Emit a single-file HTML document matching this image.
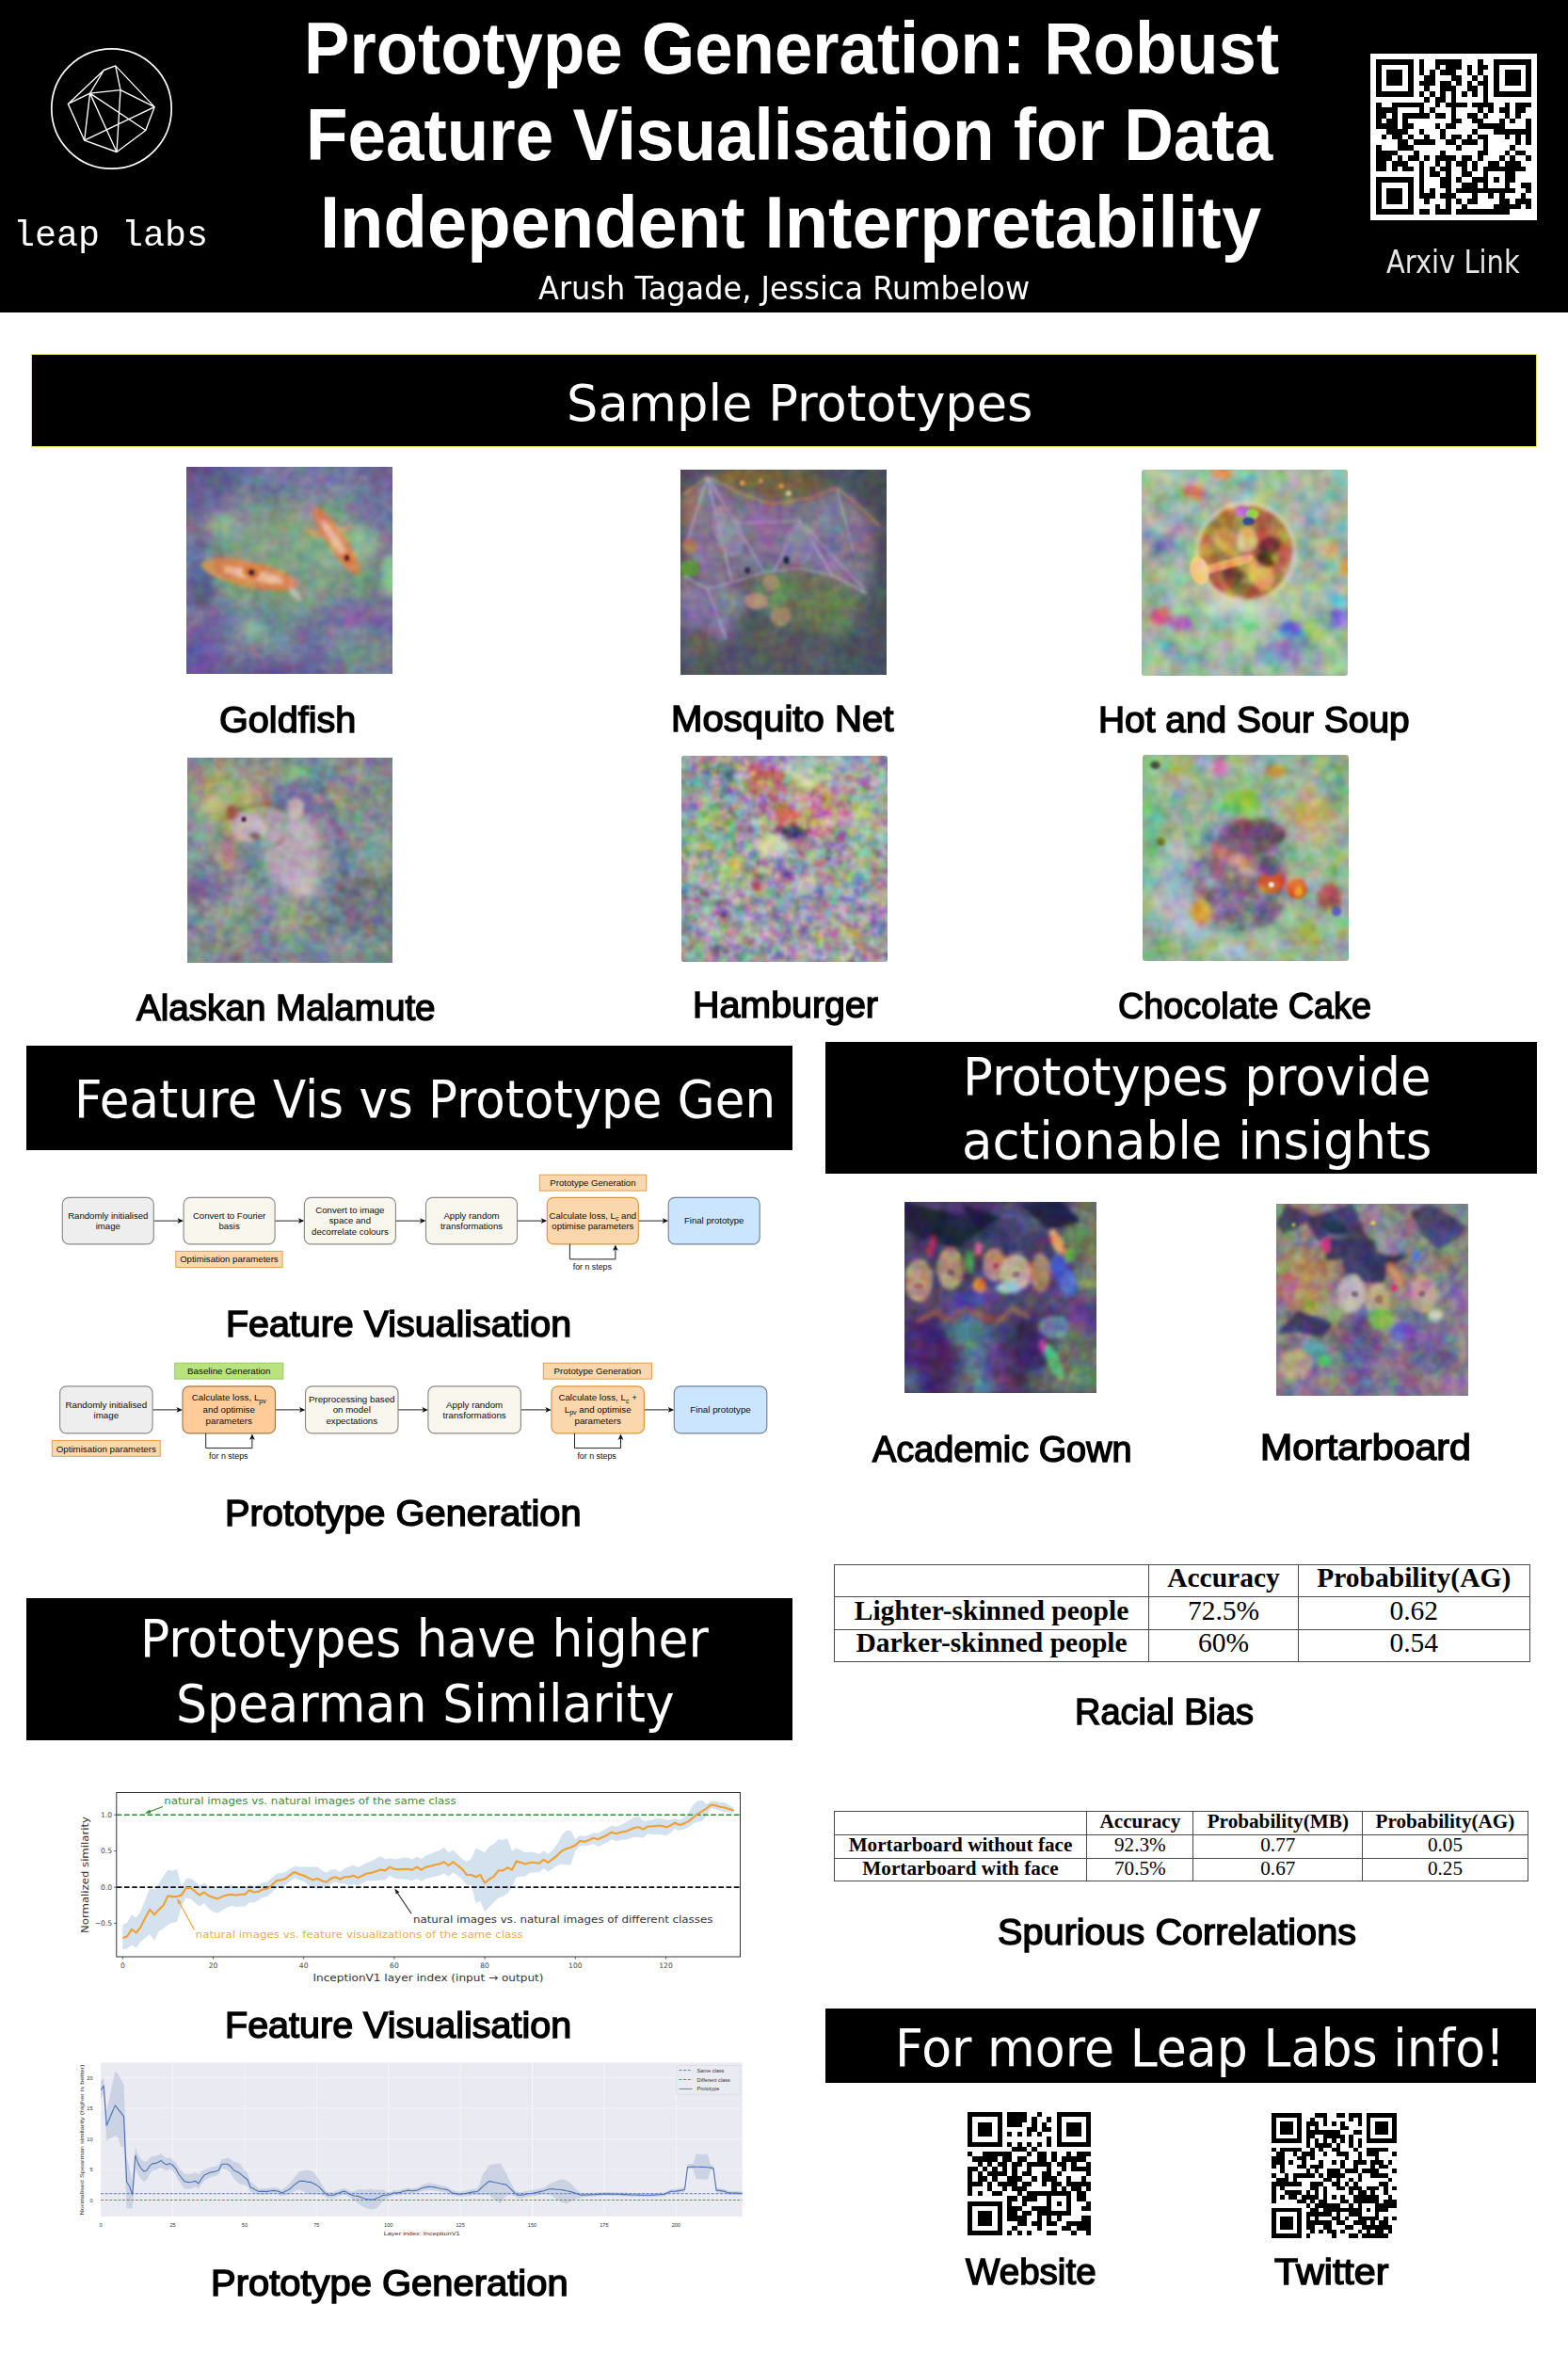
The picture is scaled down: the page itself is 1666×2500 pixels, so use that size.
<!DOCTYPE html>
<html lang="en"><head><meta charset="utf-8"><title>Prototype Generation: Robust Feature Visualisation for Data Independent Interpretability</title>
<style>
html,body{margin:0;padding:0}
body{width:1666px;height:2500px;position:relative;background:#fff;overflow:hidden;font-family:"Liberation Sans",sans-serif}
.t{position:absolute;white-space:nowrap;transform-origin:0 0;margin:0;padding:0;line-height:1}
.abs{position:absolute}
.bar{position:absolute;background:#000}
svg{position:absolute;overflow:visible}
table{position:absolute;border-collapse:collapse;font-family:"Liberation Serif",serif;color:#000}
td,th{border:1.3px solid #444;text-align:center;padding:0;white-space:nowrap;line-height:.8;vertical-align:middle}
</style></head>
<body>
<header class="abs" style="left:0;top:0;width:1666px;height:331.7px;background:#000">
<svg width="240" height="240" style="left:0;top:0" viewBox="0 0 240 240"><circle cx="118.5" cy="115.5" r="63.7" fill="none" stroke="#fff" stroke-width="1.7"/><path d="M110.4 74.5L122.7 69.9 M110.4 74.5L72.3 110.4 M110.4 74.5L95.6 99.1 M122.7 69.9L128.0 95.6 M122.7 69.9L164.2 113.6 M72.3 110.4L95.6 99.1 M95.6 99.1L128.0 95.6 M128.0 95.6L164.2 113.6 M72.3 110.4L89.7 149.2 M95.6 99.1L89.7 149.2 M95.6 99.1L124.0 161.5 M95.6 99.1L154.8 138.5 M128.0 95.6L124.0 161.5 M89.7 149.2L164.2 113.6 M164.2 113.6L154.8 138.5 M154.8 138.5L124.0 161.5 M124.0 161.5L89.7 149.2" stroke="#fff" stroke-width="1.35" fill="none" stroke-linejoin="round" stroke-linecap="round"/></svg>
<div class="t" id="t0" style='left:14.17px;top:232.20px;font:400 38px/1 "Liberation Mono", monospace;color:#fff;transform:scaleX(1.0084);'>leap labs</div>
<h1 class="t" id="t1" style='left:323.49px;top:12.90px;font:700 77px/1 "Liberation Sans", sans-serif;color:#fff;transform:scaleX(0.9424);'>Prototype Generation: Robust</h1>
<h1 class="t" id="t2" style='left:325.37px;top:105.30px;font:700 77px/1 "Liberation Sans", sans-serif;color:#fff;transform:scaleX(0.9463);'>Feature Visualisation for Data</h1>
<h1 class="t" id="t3" style='left:339.97px;top:198.10px;font:700 77px/1 "Liberation Sans", sans-serif;color:#fff;transform:scaleX(0.9864);'>Independent Interpretability</h1>
<div class="t" id="t4" style='left:572.00px;top:288.60px;font:400 34px/1 "DejaVu Sans", "Liberation Sans", sans-serif;color:#fff;transform:scaleX(0.9409);'>Arush Tagade, Jessica Rumbelow</div>
<div class="abs" style="left:1456.3px;top:57.1px;width:176.4px;height:176.7px;background:#fff"></div>
<div class="t" id="t5" style='left:1473.00px;top:262.40px;font:400 33px/1 "DejaVu Sans", "Liberation Sans", sans-serif;color:#e6e6e6;transform:scaleX(0.8772);'>Arxiv Link</div>
<svg width="165.0" height="165.0" viewBox="0 0 29 29" style="left:1462.1px;top:62.9px" shape-rendering="crispEdges"><path d="M0 0h7v1h-7zM8 0h1v1h-1zM11 0h5v1h-5zM19 0h1v1h-1zM22 0h7v1h-7zM0 1h1v1h-1zM6 1h1v1h-1zM8 1h1v1h-1zM11 1h1v1h-1zM13 1h3v1h-3zM17 1h1v1h-1zM19 1h2v1h-2zM22 1h1v1h-1zM28 1h1v1h-1zM0 2h1v1h-1zM2 2h3v1h-3zM6 2h1v1h-1zM8 2h1v1h-1zM10 2h1v1h-1zM12 2h3v1h-3zM17 2h1v1h-1zM19 2h1v1h-1zM22 2h1v1h-1zM24 2h3v1h-3zM28 2h1v1h-1zM0 3h1v1h-1zM2 3h3v1h-3zM6 3h1v1h-1zM9 3h2v1h-2zM14 3h2v1h-2zM18 3h1v1h-1zM20 3h1v1h-1zM22 3h1v1h-1zM24 3h3v1h-3zM28 3h1v1h-1zM0 4h1v1h-1zM2 4h3v1h-3zM6 4h1v1h-1zM8 4h3v1h-3zM12 4h2v1h-2zM15 4h1v1h-1zM17 4h1v1h-1zM19 4h2v1h-2zM22 4h1v1h-1zM24 4h3v1h-3zM28 4h1v1h-1zM0 5h1v1h-1zM6 5h1v1h-1zM9 5h1v1h-1zM12 5h3v1h-3zM17 5h2v1h-2zM20 5h1v1h-1zM22 5h1v1h-1zM28 5h1v1h-1zM0 6h7v1h-7zM8 6h1v1h-1zM10 6h1v1h-1zM12 6h1v1h-1zM14 6h1v1h-1zM16 6h1v1h-1zM18 6h1v1h-1zM20 6h1v1h-1zM22 6h7v1h-7zM9 7h1v1h-1zM11 7h2v1h-2zM14 7h1v1h-1zM20 7h1v1h-1zM0 8h1v1h-1zM3 8h6v1h-6zM11 8h1v1h-1zM13 8h4v1h-4zM18 8h4v1h-4zM24 8h1v1h-1zM26 8h3v1h-3zM0 9h4v1h-4zM8 9h1v1h-1zM10 9h1v1h-1zM14 9h1v1h-1zM19 9h1v1h-1zM21 9h1v1h-1zM23 9h2v1h-2zM26 9h2v1h-2zM0 10h2v1h-2zM3 10h1v1h-1zM5 10h5v1h-5zM11 10h2v1h-2zM14 10h1v1h-1zM17 10h2v1h-2zM20 10h1v1h-1zM24 10h1v1h-1zM26 10h1v1h-1zM0 11h1v1h-1zM2 11h2v1h-2zM5 11h1v1h-1zM14 11h2v1h-2zM18 11h2v1h-2zM23 11h1v1h-1zM25 11h1v1h-1zM28 11h1v1h-1zM0 12h4v1h-4zM5 12h2v1h-2zM11 12h1v1h-1zM13 12h2v1h-2zM19 12h5v1h-5zM28 12h1v1h-1zM2 13h4v1h-4zM8 13h1v1h-1zM12 13h1v1h-1zM18 13h1v1h-1zM22 13h7v1h-7zM1 14h1v1h-1zM3 14h2v1h-2zM6 14h1v1h-1zM9 14h1v1h-1zM12 14h1v1h-1zM14 14h2v1h-2zM17 14h1v1h-1zM19 14h2v1h-2zM24 14h1v1h-1zM26 14h1v1h-1zM28 14h1v1h-1zM4 15h2v1h-2zM7 15h4v1h-4zM13 15h2v1h-2zM16 15h3v1h-3zM20 15h1v1h-1zM26 15h1v1h-1zM28 15h1v1h-1zM0 16h1v1h-1zM4 16h3v1h-3zM15 16h1v1h-1zM20 16h1v1h-1zM25 16h1v1h-1zM0 17h4v1h-4zM7 17h1v1h-1zM12 17h1v1h-1zM19 17h2v1h-2zM24 17h1v1h-1zM26 17h2v1h-2zM0 18h3v1h-3zM4 18h1v1h-1zM6 18h2v1h-2zM9 18h1v1h-1zM11 18h4v1h-4zM16 18h2v1h-2zM19 18h1v1h-1zM23 18h1v1h-1zM25 18h1v1h-1zM28 18h1v1h-1zM0 19h2v1h-2zM3 19h3v1h-3zM8 19h1v1h-1zM11 19h1v1h-1zM13 19h1v1h-1zM15 19h2v1h-2zM18 19h1v1h-1zM21 19h2v1h-2zM24 19h3v1h-3zM0 20h2v1h-2zM3 20h1v1h-1zM5 20h2v1h-2zM8 20h1v1h-1zM10 20h1v1h-1zM12 20h2v1h-2zM16 20h1v1h-1zM18 20h1v1h-1zM20 20h8v1h-8zM8 21h1v1h-1zM10 21h2v1h-2zM13 21h1v1h-1zM16 21h2v1h-2zM20 21h1v1h-1zM24 21h2v1h-2zM0 22h7v1h-7zM8 22h1v1h-1zM12 22h2v1h-2zM15 22h1v1h-1zM18 22h3v1h-3zM22 22h1v1h-1zM24 22h2v1h-2zM0 23h1v1h-1zM6 23h1v1h-1zM8 23h1v1h-1zM12 23h2v1h-2zM16 23h3v1h-3zM20 23h1v1h-1zM24 23h1v1h-1zM27 23h2v1h-2zM0 24h1v1h-1zM2 24h3v1h-3zM6 24h1v1h-1zM8 24h1v1h-1zM10 24h1v1h-1zM13 24h1v1h-1zM15 24h11v1h-11zM28 24h1v1h-1zM0 25h1v1h-1zM2 25h3v1h-3zM6 25h1v1h-1zM8 25h3v1h-3zM12 25h3v1h-3zM18 25h1v1h-1zM21 25h1v1h-1zM23 25h1v1h-1zM27 25h1v1h-1zM0 26h1v1h-1zM2 26h3v1h-3zM6 26h1v1h-1zM9 26h1v1h-1zM13 26h1v1h-1zM15 26h1v1h-1zM17 26h2v1h-2zM23 26h2v1h-2zM26 26h3v1h-3zM0 27h1v1h-1zM6 27h1v1h-1zM11 27h1v1h-1zM13 27h1v1h-1zM16 27h1v1h-1zM22 27h5v1h-5zM28 27h1v1h-1zM0 28h7v1h-7zM8 28h2v1h-2zM11 28h3v1h-3zM15 28h10v1h-10z" fill="#000"/></svg>
</header>
<main>
<section>
<div class="bar" style="left:32.8px;top:376px;width:1598px;height:97px;border:1px solid #e6dc50"></div>
<h2 class="t" id="t6" style='left:601.88px;top:401.90px;font:400 54px/1 "DejaVu Sans", "Liberation Sans", sans-serif;color:#fff;transform:scaleX(0.9749);'>Sample Prototypes</h2>
<svg width="0" height="0" style="left:0;top:0"><defs><filter id="bl0_45" x="-30%" y="-30%" width="160%" height="160%"><feGaussianBlur stdDeviation="0.45"/></filter><filter id="bl0_5" x="-30%" y="-30%" width="160%" height="160%"><feGaussianBlur stdDeviation="0.5"/></filter><filter id="bl0_55" x="-30%" y="-30%" width="160%" height="160%"><feGaussianBlur stdDeviation="0.55"/></filter><filter id="bl0_6" x="-30%" y="-30%" width="160%" height="160%"><feGaussianBlur stdDeviation="0.6"/></filter><filter id="bl0_65" x="-30%" y="-30%" width="160%" height="160%"><feGaussianBlur stdDeviation="0.65"/></filter><filter id="bl0_7" x="-30%" y="-30%" width="160%" height="160%"><feGaussianBlur stdDeviation="0.7"/></filter><filter id="bl0_9" x="-30%" y="-30%" width="160%" height="160%"><feGaussianBlur stdDeviation="0.9"/></filter><filter id="bl0_95" x="-30%" y="-30%" width="160%" height="160%"><feGaussianBlur stdDeviation="0.95"/></filter><filter id="bl1_4" x="-30%" y="-30%" width="160%" height="160%"><feGaussianBlur stdDeviation="1.4"/></filter><filter id="bl1_5" x="-30%" y="-30%" width="160%" height="160%"><feGaussianBlur stdDeviation="1.5"/></filter><filter id="bl2_2" x="-30%" y="-30%" width="160%" height="160%"><feGaussianBlur stdDeviation="2.2"/></filter><filter id="bl2_8" x="-30%" y="-30%" width="160%" height="160%"><feGaussianBlur stdDeviation="2.8"/></filter><filter id="bl3_2" x="-30%" y="-30%" width="160%" height="160%"><feGaussianBlur stdDeviation="3.2"/></filter><filter id="bl4" x="-30%" y="-30%" width="160%" height="160%"><feGaussianBlur stdDeviation="4"/></filter><filter id="bl5" x="-30%" y="-30%" width="160%" height="160%"><feGaussianBlur stdDeviation="5"/></filter></defs></svg>
<svg width="218.7" height="219.8" viewBox="0 0 100 100" preserveAspectRatio="none" style="left:198.1px;top:496.1px;overflow:hidden;border-radius:0px"><defs><filter id="nz0" x="0" y="0" width="100%" height="100%" color-interpolation-filters="sRGB"><feTurbulence type="fractalNoise" baseFrequency="0.06" numOctaves="2" seed="11" result="m"/><feColorMatrix in="m" type="matrix" values="0.25 0 0 0 0.375 0 0.25 0 0 0.375 0 0 0.25 0 0.375 0 0 0 0 1" result="m2"/><feBlend in="m2" in2="SourceGraphic" mode="overlay" result="s1"/><feTurbulence type="fractalNoise" baseFrequency="0.22" numOctaves="2" seed="3" result="n"/><feColorMatrix in="n" type="matrix" values="0.26 0 0 0 0.370 0 0.26 0 0 0.370 0 0 0.26 0 0.370 0 0 0 0 1" result="n2"/><feGaussianBlur in="n2" stdDeviation="0.5" result="n3"/><feBlend in="n3" in2="s1" mode="overlay"/></filter></defs><g filter="url(#nz0)"><rect x="-20" y="-20" width="140" height="140" fill="#72749a"/><g filter="url(#bl5)"><ellipse cx="52" cy="44" rx="42" ry="30" fill="#7c9c84"/><ellipse cx="55" cy="40" rx="26" ry="18" fill="#86a488" fill-opacity="0.8"/><ellipse cx="2" cy="2" rx="20" ry="18" fill="#5c5490"/><ellipse cx="2" cy="97" rx="20" ry="18" fill="#6a5a98"/><ellipse cx="44" cy="99" rx="28" ry="9" fill="#62528e"/><ellipse cx="97" cy="2" rx="13" ry="12" fill="#666094"/><ellipse cx="86" cy="90" rx="13" ry="9" fill="#80a090" fill-opacity="0.8"/><ellipse cx="39" cy="86" rx="12" ry="6" fill="#86a8a0" fill-opacity="0.8"/><ellipse cx="75" cy="72" rx="12" ry="11" fill="#77749b"/></g><g filter="url(#bl2_2)"><ellipse cx="86" cy="37" rx="8" ry="8" fill="#8ab890"/><ellipse cx="99" cy="52" rx="4" ry="11" fill="#90c890"/><ellipse cx="18" cy="29" rx="6" ry="6" fill="#86b090"/><ellipse cx="33" cy="79" rx="5" ry="4" fill="#8cc090"/><ellipse cx="8" cy="57" rx="6" ry="12" fill="#565a88"/><ellipse cx="60" cy="25" rx="6" ry="8" fill="#8890a0" transform="rotate(30 60 25)" fill-opacity="0.7"/></g><g filter="url(#bl0_9)"><ellipse cx="30.5" cy="52" rx="24" ry="6.3" fill="#dc8450" transform="rotate(12 30.5 52)" fill-opacity="0.92"/><ellipse cx="33" cy="52.5" rx="15" ry="2.6" fill="#edc2a6" transform="rotate(12 33 52.5)" fill-opacity="0.9"/><ellipse cx="31.6" cy="51" rx="4.2" ry="3.2" fill="#d86a28" transform="rotate(12 31.6 51)"/><ellipse cx="53" cy="62" rx="4.5" ry="1.4" fill="#d0c8b8" transform="rotate(50 53 62)" fill-opacity="0.8"/><ellipse cx="73" cy="36" rx="19.5" ry="4.6" fill="#dc8450" transform="rotate(56 73 36)" fill-opacity="0.92"/><ellipse cx="72" cy="35" rx="11" ry="2.0" fill="#edc2a6" transform="rotate(56 72 35)" fill-opacity="0.9"/><ellipse cx="78" cy="44" rx="3.2" ry="2.6" fill="#d86a28" transform="rotate(56 78 44)"/><ellipse cx="62" cy="32" rx="4.5" ry="1.1" fill="#e09858" transform="rotate(20 62 32)"/><ellipse cx="77" cy="30" rx="3.5" ry="1" fill="#e0a070" transform="rotate(-20 77 30)"/></g><g filter="url(#bl0_45)"><ellipse cx="31.6" cy="51" rx="1.3" ry="1.3" fill="#3a2a3a"/><ellipse cx="78" cy="44" rx="1.1" ry="1.3" fill="#3a2a3a"/></g></g></svg>
<svg width="218.9" height="218.3" viewBox="0 0 100 100" preserveAspectRatio="none" style="left:723.1px;top:498.7px;overflow:hidden;border-radius:0px"><defs><filter id="nz2" x="0" y="0" width="100%" height="100%" color-interpolation-filters="sRGB"><feTurbulence type="fractalNoise" baseFrequency="0.06" numOctaves="2" seed="13" result="m"/><feColorMatrix in="m" type="matrix" values="0.25 0 0 0 0.375 0 0.25 0 0 0.375 0 0 0.25 0 0.375 0 0 0 0 1" result="m2"/><feBlend in="m2" in2="SourceGraphic" mode="overlay" result="s1"/><feTurbulence type="fractalNoise" baseFrequency="0.22" numOctaves="2" seed="5" result="n"/><feColorMatrix in="n" type="matrix" values="0.26 0 0 0 0.370 0 0.26 0 0 0.370 0 0 0.26 0 0.370 0 0 0 0 1" result="n2"/><feGaussianBlur in="n2" stdDeviation="0.5" result="n3"/><feBlend in="n3" in2="s1" mode="overlay"/></filter></defs><g filter="url(#nz2)"><rect x="-20" y="-20" width="140" height="140" fill="#4a545e"/><g filter="url(#bl2_8)"><polygon points="2,9 13,3.5 30,12 44,17 62,14 76,9 86,17 96,27 92,45 90,60 75,52 58,48 40,50 25,55 13,58 2,40" fill="#7f7290"/><polygon points="13,3.5 30,-2 60,-2 76,9 62,14 44,17 30,12" fill="#6a6448"/><polygon points="-2,50 13,58 25,55 35,62 25,80 10,85 -2,75" fill="#80789a"/><polygon points="35,50 58,48 75,52 90,62 80,80 50,78 35,65" fill="#667a5a"/><ellipse cx="40" cy="90" rx="42" ry="10" fill="#585860"/><ellipse cx="88" cy="92" rx="16" ry="14" fill="#47525c"/><ellipse cx="99" cy="50" rx="5" ry="52" fill="#46505a"/><ellipse cx="-2" cy="5" rx="10" ry="8" fill="#504a5c"/><ellipse cx="4" cy="20" rx="4" ry="10" fill="#a06850" fill-opacity="0.9"/><ellipse cx="9" cy="83" rx="7" ry="6" fill="#6a5a58"/><ellipse cx="60" cy="70" rx="18" ry="8" fill="#6a7656" fill-opacity="0.8"/></g><g filter="url(#bl0_65)"><polyline points="2,12 13,3.5 30,12 44,17 62,14 76,9 86,17 96,27" stroke="#a07c60" stroke-width="1.6" fill="none" stroke-linejoin="round" stroke-linecap="round" stroke-opacity="0.9"/><polyline points="13,4 25,55" stroke="#b4a4c4" stroke-width="1.1" fill="none" stroke-linejoin="round" stroke-linecap="round" stroke-opacity="0.8"/><polyline points="13,4 3,36" stroke="#b09ab8" stroke-width="1.1" fill="none" stroke-linejoin="round" stroke-linecap="round" stroke-opacity="0.7"/><polyline points="14,5 40,49" stroke="#b4a4c4" stroke-width="1" fill="none" stroke-linejoin="round" stroke-linecap="round" stroke-opacity="0.7"/><polyline points="58,25 45,50" stroke="#b4a4c8" stroke-width="1" fill="none" stroke-linejoin="round" stroke-linecap="round" stroke-opacity="0.8"/><polyline points="58,25 74,52" stroke="#b4a4c8" stroke-width="1" fill="none" stroke-linejoin="round" stroke-linecap="round" stroke-opacity="0.8"/><polyline points="58,25 89,58" stroke="#a898bc" stroke-width="1" fill="none" stroke-linejoin="round" stroke-linecap="round" stroke-opacity="0.7"/><polyline points="25,26 58,25" stroke="#a890b0" stroke-width="1.2" fill="none" stroke-linejoin="round" stroke-linecap="round" stroke-opacity="0.7"/><polyline points="76,10 84,40" stroke="#a898bc" stroke-width="1" fill="none" stroke-linejoin="round" stroke-linecap="round" stroke-opacity="0.7"/><polyline points="13,58 25,55 40,50 58,48 75,52 90,60" stroke="#9a9ab0" stroke-width="1.2" fill="none" stroke-linejoin="round" stroke-linecap="round" stroke-opacity="0.7"/><polyline points="13,58 22,82" stroke="#a8a0c0" stroke-width="1.1" fill="none" stroke-linejoin="round" stroke-linecap="round" stroke-opacity="0.7"/><polyline points="2,52 13,58" stroke="#a8a0c0" stroke-width="1" fill="none" stroke-linejoin="round" stroke-linecap="round" stroke-opacity="0.7"/><ellipse cx="23" cy="30" rx="7" ry="13" fill="#a08cae" transform="rotate(-20 23 30)" fill-opacity="0.7"/><ellipse cx="58" cy="36" rx="8" ry="10" fill="#9484b0" transform="rotate(10 58 36)" fill-opacity="0.7"/><ellipse cx="4.5" cy="48" rx="5" ry="4" fill="#5a8a3a"/><ellipse cx="4.5" cy="37" rx="3.5" ry="3.5" fill="#a87850"/><ellipse cx="30" cy="4" rx="12" ry="4" fill="#7a6a3a" fill-opacity="0.8"/><ellipse cx="44" cy="55" rx="4" ry="4" fill="#a08868"/><ellipse cx="37" cy="64" rx="6" ry="4" fill="#a88c70"/><ellipse cx="48.5" cy="71" rx="5" ry="5" fill="#9a8264"/><ellipse cx="47" cy="64" rx="5" ry="4" fill="#6a8858"/><ellipse cx="30" cy="6.5" rx="1" ry="1" fill="#f0c060"/><ellipse cx="39" cy="5.5" rx="1" ry="1" fill="#e0a050"/><ellipse cx="49" cy="8" rx="1.1" ry="1.1" fill="#f0a050"/><ellipse cx="52.5" cy="11.5" rx="1.2" ry="1.2" fill="#f0c090"/><ellipse cx="51.5" cy="44" rx="1.5" ry="2" fill="#1c2040"/><ellipse cx="32.5" cy="49" rx="1.3" ry="1.6" fill="#1c2040"/></g></g></svg>
<svg width="219.2" height="219.2" viewBox="0 0 100 100" preserveAspectRatio="none" style="left:1213.1px;top:498.7px;overflow:hidden;border-radius:3px"><defs><filter id="nz4" x="0" y="0" width="100%" height="100%" color-interpolation-filters="sRGB"><feTurbulence type="fractalNoise" baseFrequency="0.09" numOctaves="2" seed="15" result="m"/><feColorMatrix in="m" type="matrix" values="0.55 0 0 0 0.225 0 0.55 0 0 0.225 0 0 0.55 0 0.225 0 0 0 0 1" result="m2"/><feBlend in="m2" in2="SourceGraphic" mode="overlay" result="s1"/><feTurbulence type="fractalNoise" baseFrequency="0.18" numOctaves="2" seed="7" result="n"/><feColorMatrix in="n" type="matrix" values="0.4 0 0 0 0.300 0 0.4 0 0 0.300 0 0 0.4 0 0.300 0 0 0 0 1" result="n2"/><feGaussianBlur in="n2" stdDeviation="0.5" result="n3"/><feBlend in="n3" in2="s1" mode="overlay"/></filter></defs><g filter="url(#nz4)"><rect x="-20" y="-20" width="140" height="140" fill="#9eb8a0"/><g filter="url(#bl4)"><ellipse cx="13" cy="30" rx="8" ry="9" fill="#9898b0"/><ellipse cx="30" cy="68" rx="8" ry="5" fill="#90d090"/><ellipse cx="55" cy="75" rx="8" ry="10" fill="#90c890"/><ellipse cx="83" cy="82" rx="6" ry="6" fill="#80c070"/><ellipse cx="16" cy="5.5" rx="6" ry="6" fill="#a0c880"/><ellipse cx="69" cy="89" rx="12" ry="6" fill="#8080c8"/><ellipse cx="6" cy="37" rx="5" ry="8" fill="#7080b0"/><ellipse cx="48" cy="66" rx="22" ry="4" fill="#d0e0d0"/><ellipse cx="85" cy="20" rx="10" ry="8" fill="#a8a8c0" fill-opacity="0.7"/></g><g filter="url(#bl1_5)"><ellipse cx="25" cy="10.5" rx="5" ry="4" fill="#c86060"/><ellipse cx="39" cy="1.5" rx="5" ry="3" fill="#e09030"/><ellipse cx="96.5" cy="72" rx="4" ry="5" fill="#9050d0"/><ellipse cx="96" cy="63" rx="4" ry="3" fill="#50c0d0"/><ellipse cx="18.5" cy="75" rx="6" ry="4" fill="#a070c0"/><ellipse cx="9.5" cy="70.5" rx="5" ry="4" fill="#c06080"/><ellipse cx="72" cy="77.5" rx="6" ry="4" fill="#7070d0"/><ellipse cx="99" cy="47.5" rx="2.5" ry="5" fill="#e08040"/><ellipse cx="92" cy="38" rx="4" ry="4" fill="#e09060" fill-opacity="0.7"/><ellipse cx="14" cy="88" rx="6" ry="5" fill="#80a8c0" fill-opacity="0.8"/></g><g filter="url(#bl0_9)"><ellipse cx="50.5" cy="40" rx="24.5" ry="24.5" fill="#d6d2b0"/><ellipse cx="50.5" cy="40" rx="22.8" ry="22.8" fill="#b07a44"/><ellipse cx="51" cy="34" rx="5" ry="6" fill="#e0b070"/><ellipse cx="58" cy="51" rx="6" ry="8" fill="#e0a860" transform="rotate(-20 58 51)"/><ellipse cx="62" cy="37" rx="5" ry="5" fill="#6a4030"/><ellipse cx="44" cy="52" rx="5" ry="5" fill="#8a5030"/><ellipse cx="40" cy="33" rx="6" ry="5" fill="#c89050"/><ellipse cx="60" cy="44" rx="5" ry="3" fill="#5a3828" transform="rotate(30 60 44)"/><ellipse cx="50" cy="58" rx="7" ry="3" fill="#8a5a38"/></g><g filter="url(#bl0_55)"><path d="M30 49L52 43" stroke="#eca860" stroke-width="4.2" stroke-linecap="round" fill="none"/><ellipse cx="28" cy="49" rx="4.5" ry="7" fill="#f3cb94" transform="rotate(-15 28 49)"/><ellipse cx="49" cy="20.5" rx="4" ry="2.5" fill="#c060c0"/><ellipse cx="54" cy="21.5" rx="3" ry="2.5" fill="#a0d040"/><ellipse cx="52" cy="25" rx="3" ry="2" fill="#404080"/></g></g></svg>
<svg width="218.6" height="218.4" viewBox="0 0 100 100" preserveAspectRatio="none" style="left:198.7px;top:804.7px;overflow:hidden;border-radius:0px"><defs><filter id="nz1" x="0" y="0" width="100%" height="100%" color-interpolation-filters="sRGB"><feTurbulence type="fractalNoise" baseFrequency="0.07" numOctaves="2" seed="12" result="m"/><feColorMatrix in="m" type="matrix" values="0.3 0 0 0 0.350 0 0.3 0 0 0.350 0 0 0.3 0 0.350 0 0 0 0 1" result="m2"/><feBlend in="m2" in2="SourceGraphic" mode="overlay" result="s1"/><feTurbulence type="fractalNoise" baseFrequency="0.22" numOctaves="2" seed="4" result="n"/><feColorMatrix in="n" type="matrix" values="0.36 0 0 0 0.320 0 0.36 0 0 0.320 0 0 0.36 0 0.320 0 0 0 0 1" result="n2"/><feGaussianBlur in="n2" stdDeviation="0.5" result="n3"/><feBlend in="n3" in2="s1" mode="overlay"/></filter></defs><g filter="url(#nz1)"><rect x="-20" y="-20" width="140" height="140" fill="#808893"/><g filter="url(#bl5)"><ellipse cx="20" cy="22" rx="20" ry="19" fill="#a4a878" fill-opacity="0.95"/><ellipse cx="93" cy="79" rx="24" ry="26" fill="#717d89"/><ellipse cx="44" cy="95" rx="55" ry="8" fill="#7c8490"/><ellipse cx="27" cy="76" rx="15" ry="10" fill="#90a884" fill-opacity="0.8"/><ellipse cx="55" cy="78" rx="12" ry="8" fill="#98a878" fill-opacity="0.8"/><ellipse cx="90" cy="41" rx="8" ry="15" fill="#88a088" fill-opacity="0.8"/><ellipse cx="96" cy="10" rx="10" ry="14" fill="#78868a"/></g><g filter="url(#bl2_2)"><ellipse cx="13" cy="23" rx="5" ry="4" fill="#c8c870" fill-opacity="0.8"/><ellipse cx="55" cy="9" rx="6" ry="5" fill="#90c080"/><ellipse cx="9" cy="65" rx="10" ry="6" fill="#8a68a0" fill-opacity="0.8"/><ellipse cx="51" cy="46" rx="13" ry="20" fill="#b4a8b6"/><ellipse cx="56" cy="58" rx="8" ry="11" fill="#bcb0b8"/><ellipse cx="38.5" cy="69" rx="5" ry="9" fill="#8890a8"/><ellipse cx="72" cy="41" rx="6" ry="18" fill="#8088a0" fill-opacity="0.8"/><ellipse cx="20" cy="48" rx="4" ry="8" fill="#c09080" fill-opacity="0.8"/><ellipse cx="55" cy="20" rx="11" ry="10" fill="#7a80a0"/><ellipse cx="70" cy="20" rx="8" ry="6" fill="#b8a070" transform="rotate(30 70 20)" fill-opacity="0.6"/></g><g filter="url(#bl0_9)"><polyline points="43,25 49,15 57,11 65,15 70,25 74,40 76,56" stroke="#6c7292" stroke-width="4.5" fill="none" stroke-linejoin="round" stroke-linecap="round" stroke-opacity="0.85"/><polyline points="44,62 40,75 38,86" stroke="#8088a2" stroke-width="3" fill="none" stroke-linejoin="round" stroke-linecap="round" stroke-opacity="0.8"/><polyline points="56,68 53,82" stroke="#8890a8" stroke-width="3" fill="none" stroke-linejoin="round" stroke-linecap="round" stroke-opacity="0.8"/><polyline points="22,26 30,24 40,22 46,26" stroke="#8a6458" stroke-width="1.6" fill="none" stroke-linejoin="round" stroke-linecap="round" stroke-opacity="0.8"/><polyline points="22,42 30,46 40,44 47,40" stroke="#8a6a70" stroke-width="1.6" fill="none" stroke-linejoin="round" stroke-linecap="round" stroke-opacity="0.7"/><ellipse cx="30" cy="34" rx="9" ry="7" fill="#c2b4b8"/><ellipse cx="21.5" cy="27" rx="3" ry="3.5" fill="#8a5a50"/><ellipse cx="52.5" cy="25" rx="4" ry="6" fill="#c6b8ac"/><ellipse cx="33" cy="38" rx="3" ry="2" fill="#a05a68"/><ellipse cx="44" cy="32" rx="5" ry="8" fill="#aa9ea8" transform="rotate(-30 44 32)"/></g><g filter="url(#bl0_6)"><ellipse cx="27.5" cy="30" rx="1.1" ry="1.3" fill="#30283a"/></g></g></svg>
<svg width="218.9" height="219" viewBox="0 0 100 100" preserveAspectRatio="none" style="left:724px;top:803.1px;overflow:hidden;border-radius:2.5px"><defs><filter id="nz3" x="0" y="0" width="100%" height="100%" color-interpolation-filters="sRGB"><feTurbulence type="fractalNoise" baseFrequency="0.11" numOctaves="2" seed="14" result="m"/><feColorMatrix in="m" type="matrix" values="0.6 0 0 0 0.200 0 0.6 0 0 0.200 0 0 0.6 0 0.200 0 0 0 0 1" result="m2"/><feBlend in="m2" in2="SourceGraphic" mode="overlay" result="s1"/><feTurbulence type="fractalNoise" baseFrequency="0.26" numOctaves="2" seed="6" result="n"/><feColorMatrix in="n" type="matrix" values="0.7 0 0 0 0.150 0 0.7 0 0 0.150 0 0 0.7 0 0.150 0 0 0 0 1" result="n2"/><feGaussianBlur in="n2" stdDeviation="0.5" result="n3"/><feBlend in="n3" in2="s1" mode="overlay"/></filter></defs><g filter="url(#nz3)"><rect x="-20" y="-20" width="140" height="140" fill="#9a9ca4"/><g filter="url(#bl4)"><ellipse cx="9" cy="41" rx="10" ry="13" fill="#9ac080"/><ellipse cx="16" cy="30" rx="10" ry="14" fill="#98a890"/><ellipse cx="12.5" cy="9" rx="13" ry="7" fill="#8890a0"/><ellipse cx="89" cy="30" rx="9" ry="12" fill="#a0c090"/><ellipse cx="86" cy="51" rx="8" ry="9" fill="#98b090"/><ellipse cx="51" cy="65" rx="20" ry="12" fill="#9890a8"/><ellipse cx="79" cy="90" rx="12" ry="8" fill="#b8a088"/><ellipse cx="9" cy="93" rx="10" ry="6" fill="#90a890"/><ellipse cx="61" cy="9" rx="12" ry="8" fill="#a8c8a0"/><ellipse cx="60" cy="27" rx="22" ry="14" fill="#bc8c84" transform="rotate(-10 60 27)" fill-opacity="0.8"/><ellipse cx="25" cy="60" rx="12" ry="10" fill="#a0b890" fill-opacity="0.7"/><ellipse cx="50" cy="88" rx="30" ry="8" fill="#a098a8" fill-opacity="0.7"/><ellipse cx="85" cy="72" rx="10" ry="10" fill="#9c94b0" fill-opacity="0.7"/></g><g filter="url(#bl1_4)"><ellipse cx="40" cy="11.5" rx="9" ry="8" fill="#c07070"/><ellipse cx="68" cy="27" rx="14" ry="10" fill="#c09088"/><ellipse cx="51" cy="28" rx="6" ry="4" fill="#c86a6a"/><ellipse cx="53" cy="37" rx="8" ry="3.5" fill="#4a4a60"/><ellipse cx="44" cy="44" rx="8" ry="6" fill="#d0d0b0"/><ellipse cx="26" cy="53" rx="2.5" ry="6" fill="#d8c860" transform="rotate(25 26 53)"/><ellipse cx="19.5" cy="69" rx="7" ry="7" fill="#b4acb6"/><ellipse cx="19.5" cy="72" rx="6" ry="1.2" fill="#505060"/><ellipse cx="19.5" cy="75.5" rx="6" ry="1.2" fill="#505060"/><polyline points="8,12 14,6 22,8 24,16 18,20" stroke="#6a7288" stroke-width="2.2" fill="none" stroke-linejoin="round" stroke-linecap="round" stroke-opacity="0.8"/><polyline points="12,28 18,22 26,28 28,42 22,50" stroke="#7a8a78" stroke-width="2.2" fill="none" stroke-linejoin="round" stroke-linecap="round" stroke-opacity="0.7"/><polyline points="30,52 40,60 55,58 70,50 80,36" stroke="#5a6080" stroke-width="1.6" fill="none" stroke-linejoin="round" stroke-linecap="round" stroke-opacity="0.7"/><polyline points="52,6 60,14 70,10 78,18" stroke="#e0f0e0" stroke-width="1.8" fill="none" stroke-linejoin="round" stroke-linecap="round" stroke-opacity="0.7"/><ellipse cx="60" cy="62" rx="6" ry="5" fill="#e0e0c0" fill-opacity="0.6"/><ellipse cx="37" cy="64" rx="3" ry="3" fill="#c03060" fill-opacity="0.7"/></g></g></svg>
<svg width="218.9" height="219" viewBox="0 0 100 100" preserveAspectRatio="none" style="left:1214px;top:802.1px;overflow:hidden;border-radius:3px"><defs><filter id="nz5" x="0" y="0" width="100%" height="100%" color-interpolation-filters="sRGB"><feTurbulence type="fractalNoise" baseFrequency="0.09" numOctaves="2" seed="16" result="m"/><feColorMatrix in="m" type="matrix" values="0.5 0 0 0 0.250 0 0.5 0 0 0.250 0 0 0.5 0 0.250 0 0 0 0 1" result="m2"/><feBlend in="m2" in2="SourceGraphic" mode="overlay" result="s1"/><feTurbulence type="fractalNoise" baseFrequency="0.2" numOctaves="2" seed="8" result="n"/><feColorMatrix in="n" type="matrix" values="0.4 0 0 0 0.300 0 0.4 0 0 0.300 0 0 0.4 0 0.300 0 0 0 0 1" result="n2"/><feGaussianBlur in="n2" stdDeviation="0.5" result="n3"/><feBlend in="n3" in2="s1" mode="overlay"/></filter></defs><g filter="url(#nz5)"><rect x="-20" y="-20" width="140" height="140" fill="#98b498"/><g filter="url(#bl4)"><ellipse cx="4" cy="37" rx="6" ry="30" fill="#80b880"/><ellipse cx="9" cy="90" rx="10" ry="10" fill="#80b078"/><ellipse cx="16" cy="65" rx="8" ry="25" fill="#a8b8c4"/><ellipse cx="23" cy="83" rx="10" ry="6" fill="#b0b8c8"/><ellipse cx="16" cy="9.5" rx="10" ry="6" fill="#b0b080"/><ellipse cx="82" cy="30" rx="14" ry="12" fill="#c0a878"/><ellipse cx="94" cy="16" rx="6" ry="14" fill="#88b080"/><ellipse cx="54.5" cy="90" rx="14" ry="6" fill="#a8c0a0"/><ellipse cx="47.5" cy="58" rx="25" ry="27" fill="#84708a" fill-opacity="0.9"/></g><g filter="url(#bl1_5)"><ellipse cx="37" cy="6" rx="5" ry="5" fill="#c898a8"/><ellipse cx="30" cy="4.5" rx="4" ry="3" fill="#90b8d0"/><ellipse cx="65" cy="8" rx="5" ry="3" fill="#d09a40"/><ellipse cx="93" cy="51" rx="5" ry="5" fill="#a0c080"/><ellipse cx="54.5" cy="39" rx="14" ry="8" fill="#6a5868"/><ellipse cx="44" cy="51" rx="14" ry="3" fill="#c09088" transform="rotate(30 44 51)"/><ellipse cx="48" cy="23" rx="10" ry="6" fill="#80c050"/><ellipse cx="91.5" cy="69" rx="6" ry="7" fill="#b05a58"/><ellipse cx="28.5" cy="76" rx="5" ry="6" fill="#e0a040"/><ellipse cx="44" cy="95" rx="8" ry="3" fill="#90b0d0"/><ellipse cx="80" cy="88" rx="6" ry="6" fill="#a0b050" fill-opacity="0.8"/><ellipse cx="50" cy="75" rx="16" ry="10" fill="#7c6a88" fill-opacity="0.8"/></g><g filter="url(#bl0_7)"><ellipse cx="62" cy="62" rx="6.5" ry="5.5" fill="#c8602e"/><ellipse cx="75" cy="65" rx="5" ry="5" fill="#d4682a"/><ellipse cx="75.5" cy="66.5" rx="2" ry="2" fill="#f0a030"/><ellipse cx="94" cy="76" rx="2.5" ry="2.5" fill="#5050c0"/><ellipse cx="62" cy="54" rx="5" ry="5" fill="#7a5a78"/><ellipse cx="9" cy="42" rx="2" ry="2" fill="#707020"/><ellipse cx="6" cy="5" rx="2.5" ry="2" fill="#605040"/></g><g filter="url(#bl0_5)"><ellipse cx="62.5" cy="63" rx="1.2" ry="1.2" fill="#ffffff"/></g></g></svg>
<h3 class="t" id="t7" style='left:232.80px;top:745.10px;font:400 39.6px/1 "Liberation Sans", sans-serif;color:#000;transform:scaleX(1.0008);-webkit-text-stroke:1.5px #000;'>Goldfish</h3>
<h3 class="t" id="t8" style='left:144.50px;top:1051.10px;font:400 39.6px/1 "Liberation Sans", sans-serif;color:#000;transform:scaleX(0.9755);-webkit-text-stroke:1.5px #000;'>Alaskan Malamute</h3>
<h3 class="t" id="t9" style='left:713.36px;top:743.80px;font:400 39.6px/1 "Liberation Sans", sans-serif;color:#000;transform:scaleX(1.0140);-webkit-text-stroke:1.5px #000;'>Mosquito Net</h3>
<h3 class="t" id="t10" style='left:736.42px;top:1048.30px;font:400 39.6px/1 "Liberation Sans", sans-serif;color:#000;transform:scaleX(0.9949);-webkit-text-stroke:1.5px #000;'>Hamburger</h3>
<h3 class="t" id="t11" style='left:1166.75px;top:744.60px;font:400 39.6px/1 "Liberation Sans", sans-serif;color:#000;transform:scaleX(0.9822);-webkit-text-stroke:1.5px #000;'>Hot and Sour Soup</h3>
<h3 class="t" id="t12" style='left:1187.59px;top:1049.00px;font:400 39.6px/1 "Liberation Sans", sans-serif;color:#000;transform:scaleX(0.9551);-webkit-text-stroke:1.5px #000;'>Chocolate Cake</h3>
</section>
<section>
<div class="bar" style="left:28.1px;top:1110.9px;width:814px;height:110.8px"></div>
<h2 class="t" id="t13" style='left:79.32px;top:1141.10px;font:400 55px/1 "DejaVu Sans", "Liberation Sans", sans-serif;color:#fff;transform:scaleX(0.9360);'>Feature Vis vs Prototype Gen</h2>
<svg width="860" height="120" viewBox="0 1240 860 120" style="left:0;top:1240px" font-family="Liberation Sans, sans-serif"><path d="M163.3 1297.1H191.1" stroke="#222" stroke-width="1" fill="none"/><path d="M195.1 1297.1L188.5 1294.1999999999998L190.2 1297.1L188.5 1300.0Z" fill="#111"/><path d="M292.1 1297.1H319.4" stroke="#222" stroke-width="1" fill="none"/><path d="M323.4 1297.1L316.79999999999995 1294.1999999999998L318.49999999999994 1297.1L316.79999999999995 1300.0Z" fill="#111"/><path d="M420.4 1297.1H448.5" stroke="#222" stroke-width="1" fill="none"/><path d="M452.5 1297.1L445.9 1294.1999999999998L447.59999999999997 1297.1L445.9 1300.0Z" fill="#111"/><path d="M549.5 1297.1H577.3" stroke="#222" stroke-width="1" fill="none"/><path d="M581.3 1297.1L574.6999999999999 1294.1999999999998L576.4 1297.1L574.6999999999999 1300.0Z" fill="#111"/><path d="M678.3 1297.1H706.2" stroke="#222" stroke-width="1" fill="none"/><path d="M710.2 1297.1L703.6 1294.1999999999998L705.3000000000001 1297.1L703.6 1300.0Z" fill="#111"/><rect x="66.3" y="1272.3" width="97" height="49.6" rx="7" fill="#eeeeee" stroke="#8a8a8a" stroke-width="1.15"/><text x="114.8" y="1294.81" text-anchor="middle" font-size="9.6" fill="#0c0c0c">Randomly initialised</text><text x="114.8" y="1306.11" text-anchor="middle" font-size="9.6" fill="#0c0c0c">image</text><rect x="195.1" y="1272.3" width="97" height="49.6" rx="7" fill="#f9f7ed" stroke="#8a8a8a" stroke-width="1.15"/><text x="243.6" y="1294.81" text-anchor="middle" font-size="9.6" fill="#0c0c0c">Convert to Fourier</text><text x="243.6" y="1306.11" text-anchor="middle" font-size="9.6" fill="#0c0c0c">basis</text><rect x="323.4" y="1272.3" width="97" height="49.6" rx="7" fill="#f9f7ed" stroke="#8a8a8a" stroke-width="1.15"/><text x="371.9" y="1289.16" text-anchor="middle" font-size="9.6" fill="#0c0c0c">Convert to image</text><text x="371.9" y="1300.46" text-anchor="middle" font-size="9.6" fill="#0c0c0c">space and</text><text x="371.9" y="1311.76" text-anchor="middle" font-size="9.6" fill="#0c0c0c">decorrelate colours</text><rect x="452.5" y="1272.3" width="97" height="49.6" rx="7" fill="#f9f7ed" stroke="#8a8a8a" stroke-width="1.15"/><text x="501.0" y="1294.81" text-anchor="middle" font-size="9.6" fill="#0c0c0c">Apply random</text><text x="501.0" y="1306.11" text-anchor="middle" font-size="9.6" fill="#0c0c0c">transformations</text><rect x="581.3" y="1272.3" width="97" height="49.6" rx="7" fill="#fad7ac" stroke="#d9963c" stroke-width="1.15"/><text x="629.8" y="1294.81" text-anchor="middle" font-size="9.6" fill="#0c0c0c">Calculate loss, L<tspan dy="2.11" font-size="6.91">c</tspan><tspan dy="-2.11">​</tspan> and</text><text x="629.8" y="1306.11" text-anchor="middle" font-size="9.6" fill="#0c0c0c">optimise parameters</text><rect x="710.2" y="1272.3" width="97" height="49.6" rx="7" fill="#cce5ff" stroke="#72829a" stroke-width="1.15"/><text x="758.7" y="1300.46" text-anchor="middle" font-size="9.6" fill="#0c0c0c">Final prototype</text><rect x="573.3" y="1248.2" width="113.3" height="16.9" fill="#fad7ac" stroke="#e0a050" stroke-width="1"/><text x="629.9" y="1260.26" text-anchor="middle" font-size="9.6" fill="#0c0c0c">Prototype Generation</text><rect x="186.8" y="1329.4" width="113.3" height="17.1" fill="#fad7ac" stroke="#e0a050" stroke-width="1"/><text x="243.4" y="1341.46" text-anchor="middle" font-size="9.6" fill="#0c0c0c">Optimisation parameters</text><path d="M605.4 1321.8999999999999V1337.9H653.9V1325.8999999999999" stroke="#222" stroke-width="1" fill="none"/><path d="M653.9 1322.3999999999999L651.0 1328.9999999999998L653.9 1327.2999999999997L656.8 1328.9999999999998Z" fill="#111"/><text x="629.3" y="1348.68" text-anchor="middle" font-size="8.8" fill="#0c0c0c">for n steps</text></svg>
<svg width="860" height="120" viewBox="0 1440 860 120" style="left:0;top:1440px" font-family="Liberation Sans, sans-serif"><path d="M162.1 1497.9H190" stroke="#222" stroke-width="1" fill="none"/><path d="M194 1497.9L187.4 1495.0L189.1 1497.9L187.4 1500.8000000000002Z" fill="#111"/><path d="M292.5 1497.9H320.5" stroke="#222" stroke-width="1" fill="none"/><path d="M324.5 1497.9L317.9 1495.0L319.59999999999997 1497.9L317.9 1500.8000000000002Z" fill="#111"/><path d="M423.0 1497.9H450.9" stroke="#222" stroke-width="1" fill="none"/><path d="M454.9 1497.9L448.29999999999995 1495.0L449.99999999999994 1497.9L448.29999999999995 1500.8000000000002Z" fill="#111"/><path d="M553.4 1497.9H581.9" stroke="#222" stroke-width="1" fill="none"/><path d="M585.9 1497.9L579.3 1495.0L581.0 1497.9L579.3 1500.8000000000002Z" fill="#111"/><path d="M684.4 1497.9H712.3" stroke="#222" stroke-width="1" fill="none"/><path d="M716.3 1497.9L709.6999999999999 1495.0L711.4 1497.9L709.6999999999999 1500.8000000000002Z" fill="#111"/><rect x="63.6" y="1472.9" width="98.5" height="50" rx="7" fill="#eeeeee" stroke="#8a8a8a" stroke-width="1.15"/><text x="112.85" y="1495.61" text-anchor="middle" font-size="9.75" fill="#0c0c0c">Randomly initialised</text><text x="112.85" y="1507.01" text-anchor="middle" font-size="9.75" fill="#0c0c0c">image</text><rect x="194" y="1472.9" width="98.5" height="50" rx="7" fill="#ffcc99" stroke="#a07848" stroke-width="1.15"/><text x="243.25" y="1488.41" text-anchor="middle" font-size="9.75" fill="#0c0c0c">Calculate loss, L<tspan dy="2.15" font-size="7.02">pv</tspan><tspan dy="-2.15">​</tspan></text><text x="243.25" y="1500.71" text-anchor="middle" font-size="9.75" fill="#0c0c0c">and optimise</text><text x="243.25" y="1513.01" text-anchor="middle" font-size="9.75" fill="#0c0c0c">parameters</text><rect x="324.5" y="1472.9" width="98.5" height="50" rx="7" fill="#f9f7ed" stroke="#8a8a8a" stroke-width="1.15"/><text x="373.75" y="1489.91" text-anchor="middle" font-size="9.75" fill="#0c0c0c">Preprocessing based</text><text x="373.75" y="1501.31" text-anchor="middle" font-size="9.75" fill="#0c0c0c">on model</text><text x="373.75" y="1512.71" text-anchor="middle" font-size="9.75" fill="#0c0c0c">expectations</text><rect x="454.9" y="1472.9" width="98.5" height="50" rx="7" fill="#f9f7ed" stroke="#8a8a8a" stroke-width="1.15"/><text x="504.15" y="1495.61" text-anchor="middle" font-size="9.75" fill="#0c0c0c">Apply random</text><text x="504.15" y="1507.01" text-anchor="middle" font-size="9.75" fill="#0c0c0c">transformations</text><rect x="585.9" y="1472.9" width="98.5" height="50" rx="7" fill="#fad7ac" stroke="#d9963c" stroke-width="1.15"/><text x="635.15" y="1488.41" text-anchor="middle" font-size="9.75" fill="#0c0c0c">Calculate loss, L<tspan dy="2.15" font-size="7.02">c</tspan><tspan dy="-2.15">​</tspan> +</text><text x="635.15" y="1500.71" text-anchor="middle" font-size="9.75" fill="#0c0c0c">L<tspan dy="2.15" font-size="7.02">pv</tspan><tspan dy="-2.15">​</tspan> and optimise</text><text x="635.15" y="1513.01" text-anchor="middle" font-size="9.75" fill="#0c0c0c">parameters</text><rect x="716.3" y="1472.9" width="98.5" height="50" rx="7" fill="#cce5ff" stroke="#72829a" stroke-width="1.15"/><text x="765.55" y="1501.31" text-anchor="middle" font-size="9.75" fill="#0c0c0c">Final prototype</text><rect x="185.7" y="1448.2" width="115.2" height="16.9" fill="#b9e37f" stroke="#9ac764" stroke-width="1"/><text x="243.3" y="1460.31" text-anchor="middle" font-size="9.75" fill="#0c0c0c">Baseline Generation</text><rect x="577.3" y="1448.2" width="115.2" height="16.9" fill="#fad7ac" stroke="#e0a050" stroke-width="1"/><text x="634.9" y="1460.31" text-anchor="middle" font-size="9.75" fill="#0c0c0c">Prototype Generation</text><rect x="55.3" y="1530.4" width="114.9" height="16.9" fill="#fad7ac" stroke="#e0a050" stroke-width="1"/><text x="112.8" y="1542.51" text-anchor="middle" font-size="9.75" fill="#0c0c0c">Optimisation parameters</text><path d="M218.7 1522.9V1538.6H267.9V1526.9" stroke="#222" stroke-width="1" fill="none"/><path d="M267.9 1523.4L265.0 1530.0L267.9 1528.3L270.79999999999995 1530.0Z" fill="#111"/><text x="242.8" y="1550.12" text-anchor="middle" font-size="8.9" fill="#0c0c0c">for n steps</text><path d="M610.5 1522.9V1538.6H659.5V1526.9" stroke="#222" stroke-width="1" fill="none"/><path d="M659.5 1523.4L656.6 1530.0L659.5 1528.3L662.4 1530.0Z" fill="#111"/><text x="634.1" y="1550.12" text-anchor="middle" font-size="8.9" fill="#0c0c0c">for n steps</text></svg>
<h3 class="t" id="t14" style='left:239.81px;top:1386.60px;font:400 39.6px/1 "Liberation Sans", sans-serif;color:#000;transform:scaleX(0.9951);-webkit-text-stroke:1.5px #000;'>Feature Visualisation</h3>
<h3 class="t" id="t15" style='left:238.88px;top:1588.00px;font:400 39.6px/1 "Liberation Sans", sans-serif;color:#000;transform:scaleX(1.0062);-webkit-text-stroke:1.5px #000;'>Prototype Generation</h3>
</section>
<section>
<div class="bar" style="left:877px;top:1107px;width:755.6px;height:139.8px"></div>
<h2 class="t" id="t16" style='left:1023.40px;top:1117.20px;font:400 55px/1 "DejaVu Sans", "Liberation Sans", sans-serif;color:#fff;transform:scaleX(0.9605);'>Prototypes provide</h2>
<h2 class="t" id="t17" style='left:1022.31px;top:1185.30px;font:400 55px/1 "DejaVu Sans", "Liberation Sans", sans-serif;color:#fff;transform:scaleX(0.9631);'>actionable insights</h2>
<svg width="203.8" height="202.8" viewBox="0 0 100 100" preserveAspectRatio="none" style="left:961.1px;top:1277.1px;overflow:hidden;border-radius:0px"><defs><filter id="nz6" x="0" y="0" width="100%" height="100%" color-interpolation-filters="sRGB"><feTurbulence type="fractalNoise" baseFrequency="0.08" numOctaves="2" seed="17" result="m"/><feColorMatrix in="m" type="matrix" values="0.4 0 0 0 0.300 0 0.4 0 0 0.300 0 0 0.4 0 0.300 0 0 0 0 1" result="m2"/><feBlend in="m2" in2="SourceGraphic" mode="overlay" result="s1"/><feTurbulence type="fractalNoise" baseFrequency="0.22" numOctaves="2" seed="9" result="n"/><feColorMatrix in="n" type="matrix" values="0.34 0 0 0 0.330 0 0.34 0 0 0.330 0 0 0.34 0 0.330 0 0 0 0 1" result="n2"/><feGaussianBlur in="n2" stdDeviation="0.5" result="n3"/><feBlend in="n3" in2="s1" mode="overlay"/></filter></defs><g filter="url(#nz6)"><rect x="-20" y="-20" width="140" height="140" fill="#4b3d66"/><g filter="url(#bl3_2)"><ellipse cx="95" cy="18" rx="12" ry="24" fill="#6f7a5c"/><ellipse cx="96" cy="40" rx="6" ry="14" fill="#7a8264"/><ellipse cx="58" cy="12" rx="14" ry="9" fill="#55558a"/><ellipse cx="34" cy="65.5" rx="12" ry="10" fill="#5a7890"/><ellipse cx="38.5" cy="83" rx="8" ry="14" fill="#5a8088"/><ellipse cx="90" cy="58.5" rx="10" ry="12" fill="#6a4a90"/><ellipse cx="12" cy="80" rx="14" ry="22" fill="#46286a"/><ellipse cx="65" cy="80" rx="10" ry="22" fill="#3a2a60"/><ellipse cx="48" cy="87" rx="8" ry="14" fill="#5a3a80"/><ellipse cx="92" cy="85" rx="14" ry="20" fill="#677660"/><ellipse cx="1.5" cy="94" rx="6" ry="6" fill="#5a7080"/><ellipse cx="37" cy="98" rx="10" ry="3" fill="#5a8a90"/><ellipse cx="30" cy="18" rx="32" ry="12" fill="#38385e" fill-opacity="0.85"/><ellipse cx="50" cy="50" rx="45" ry="6" fill="#5a5080" fill-opacity="0.6"/><ellipse cx="75" cy="95" rx="10" ry="6" fill="#5a6a70"/></g><g filter="url(#bl0_95)"><polygon points="0,0 28,7 10,20 0,14" fill="#20203e"/><polygon points="10,14 34,4 43,13 25,26" fill="#1e2840"/><polygon points="30,1 50,8 38,15" fill="#1c1c3a"/><polygon points="60,1 80,-2 92,10 76,15" fill="#22224a"/><polygon points="44,16 58,12 72,18 64,26 50,24" fill="#3a3a6a"/><ellipse cx="83" cy="38.5" rx="5" ry="12" fill="#4a5ec8" transform="rotate(-25 83 38.5)"/><ellipse cx="34" cy="51" rx="10" ry="5" fill="#4848a0"/><polyline points="8,62 16,58 24,62 32,56 40,60 48,64 56,56 64,60" stroke="#8a5a50" stroke-width="3" fill="none" stroke-linejoin="round" stroke-linecap="round" stroke-opacity="0.85"/><ellipse cx="78" cy="65.5" rx="8" ry="6" fill="#6a78a0"/><ellipse cx="78" cy="84" rx="3.5" ry="10" fill="#50c080" transform="rotate(-25 78 84)"/><ellipse cx="7.5" cy="41" rx="7.5" ry="11" fill="#b8957a" fill-opacity="0.92"/><ellipse cx="24" cy="35" rx="7" ry="11" fill="#b8957a" fill-opacity="0.92"/><ellipse cx="47" cy="33" rx="6" ry="9" fill="#b8957a" fill-opacity="0.92"/><ellipse cx="58" cy="37" rx="8" ry="10" fill="#c8b29c" fill-opacity="0.92"/><ellipse cx="71" cy="37" rx="5.5" ry="10" fill="#a88870" fill-opacity="0.9"/><ellipse cx="54.5" cy="45" rx="7" ry="3" fill="#a0c0d0"/><ellipse cx="39" cy="43.5" rx="3.5" ry="3.5" fill="#d88030"/><ellipse cx="79.5" cy="21" rx="3" ry="7" fill="#e0a860" transform="rotate(-25 79.5 21)"/><ellipse cx="38.5" cy="24.5" rx="2" ry="4" fill="#e06080"/><ellipse cx="34" cy="31.5" rx="3" ry="6" fill="#40a060"/><ellipse cx="86" cy="28" rx="3" ry="4" fill="#60b040"/><ellipse cx="72" cy="76" rx="2" ry="4" fill="#c040a0"/><ellipse cx="14" cy="24" rx="2" ry="6" fill="#d03060" transform="rotate(10 14 24)" fill-opacity="0.8"/></g><g filter="url(#bl0_55)"><ellipse cx="7.5" cy="44" rx="2.5" ry="1.6" fill="#a04058" fill-opacity="0.7"/><ellipse cx="24" cy="37" rx="2" ry="1.8" fill="#804050" fill-opacity="0.7"/><ellipse cx="47.5" cy="33.5" rx="1.5" ry="1.5" fill="#804058" fill-opacity="0.7"/><ellipse cx="58" cy="38" rx="2" ry="1.8" fill="#905050" fill-opacity="0.7"/></g></g></svg>
<svg width="203.9" height="203.5" viewBox="0 0 100 100" preserveAspectRatio="none" style="left:1356.1px;top:1279.1px;overflow:hidden;border-radius:0px"><defs><filter id="nz7" x="0" y="0" width="100%" height="100%" color-interpolation-filters="sRGB"><feTurbulence type="fractalNoise" baseFrequency="0.08" numOctaves="2" seed="18" result="m"/><feColorMatrix in="m" type="matrix" values="0.35 0 0 0 0.325 0 0.35 0 0 0.325 0 0 0.35 0 0.325 0 0 0 0 1" result="m2"/><feBlend in="m2" in2="SourceGraphic" mode="overlay" result="s1"/><feTurbulence type="fractalNoise" baseFrequency="0.22" numOctaves="2" seed="10" result="n"/><feColorMatrix in="n" type="matrix" values="0.34 0 0 0 0.330 0 0.34 0 0 0.330 0 0 0.34 0 0.330 0 0 0 0 1" result="n2"/><feGaussianBlur in="n2" stdDeviation="0.5" result="n3"/><feBlend in="n3" in2="s1" mode="overlay"/></filter></defs><g filter="url(#nz7)"><rect x="-20" y="-20" width="140" height="140" fill="#84808e"/><g filter="url(#bl3_2)"><ellipse cx="32" cy="42" rx="34" ry="30" fill="#93866f" fill-opacity="0.55"/><ellipse cx="70" cy="30" rx="20" ry="18" fill="#8c8478" fill-opacity="0.5"/><ellipse cx="12" cy="8.5" rx="16" ry="12" fill="#8a8a7c"/><ellipse cx="51" cy="5" rx="14" ry="6" fill="#8a8088"/><ellipse cx="93.5" cy="26.5" rx="9" ry="14" fill="#7a8a70"/><ellipse cx="96.5" cy="58.5" rx="6" ry="22" fill="#98789a"/><ellipse cx="93.5" cy="67" rx="5" ry="8" fill="#8a9a80"/><ellipse cx="16" cy="42" rx="12" ry="18" fill="#b08a68"/><ellipse cx="44" cy="72.5" rx="13" ry="19" fill="#6a5a88"/><ellipse cx="79.5" cy="76" rx="13" ry="19" fill="#6c6290"/><ellipse cx="44" cy="97" rx="40" ry="4" fill="#7a6a90"/><ellipse cx="86.5" cy="93.5" rx="12" ry="6" fill="#907890"/><ellipse cx="99" cy="8" rx="6" ry="10" fill="#80907a"/><ellipse cx="25" cy="60" rx="10" ry="8" fill="#98a070" fill-opacity="0.7"/><ellipse cx="62" cy="88" rx="12" ry="8" fill="#8a7a90"/></g><g filter="url(#bl0_95)"><polygon points="15,8 40,0 47,17 28,16 22,20" fill="#403c6a"/><ellipse cx="30" cy="12" rx="7" ry="3.5" fill="#26304c" transform="rotate(15 30 12)"/><polygon points="24,18 46,17 68,27 58,34 56,42 36,40 34,28 26,30" fill="#3a3862"/><polygon points="70,4 80,0 100,12 95,18 84,24 76,16" fill="#4c4270"/><polygon points="0,11 5,0 20,7 4,16" fill="#42406e"/><polygon points="0,68 11,56 30,62 24,70 12,67" fill="#3e3e66"/><ellipse cx="5" cy="44" rx="5" ry="8" fill="#b06870"/><ellipse cx="65" cy="67" rx="6" ry="5" fill="#6070c0"/><ellipse cx="69" cy="67" rx="3" ry="4" fill="#7a50b0"/><ellipse cx="19.5" cy="76" rx="6" ry="5" fill="#50a0a0"/><ellipse cx="60" cy="22" rx="8" ry="5" fill="#8a80a0"/><ellipse cx="39" cy="47" rx="7.5" ry="10" fill="#c4b8b6" fill-opacity="0.92"/><ellipse cx="53" cy="50" rx="6.5" ry="8.5" fill="#bca68a" fill-opacity="0.92"/><ellipse cx="76.5" cy="47" rx="7" ry="10" fill="#bea098" fill-opacity="0.92"/><ellipse cx="83" cy="58" rx="4" ry="3" fill="#d0c8c0"/><ellipse cx="62" cy="37" rx="3" ry="7" fill="#c88c60" transform="rotate(-30 62 37)"/><ellipse cx="54.5" cy="60" rx="7" ry="5" fill="#78b050"/><ellipse cx="3" cy="33.5" rx="4" ry="4" fill="#80a060"/><ellipse cx="18" cy="53.5" rx="4" ry="4" fill="#a0a850"/><ellipse cx="10" cy="84" rx="9" ry="8" fill="#b89c86" fill-opacity="0.92"/><ellipse cx="25" cy="81.5" rx="4" ry="3" fill="#50c070"/><ellipse cx="26" cy="22" rx="2" ry="4" fill="#d03080"/><ellipse cx="73" cy="27" rx="2" ry="3" fill="#4080e0"/><polyline points="14,16 16,40 20,56" stroke="#c08050" stroke-width="1.6" fill="none" stroke-linejoin="round" stroke-linecap="round" stroke-opacity="0.7"/></g><g filter="url(#bl0_55)"><ellipse cx="41" cy="47" rx="1.8" ry="1.5" fill="#704058" fill-opacity="0.7"/><ellipse cx="53.5" cy="50" rx="2" ry="2.2" fill="#a05858" fill-opacity="0.7"/><ellipse cx="76" cy="47" rx="1.8" ry="1.5" fill="#604848" fill-opacity="0.7"/><ellipse cx="61.5" cy="44" rx="1.5" ry="1.5" fill="#e03060"/><ellipse cx="9" cy="11" rx="1" ry="1" fill="#f0b040"/><ellipse cx="50.5" cy="10" rx="1.2" ry="1" fill="#e0e040"/></g></g></svg>
<table style="left:885.7px;top:1661.8px;width:739.2px;font-size:29.5px;table-layout:fixed"><colgroup><col style="width:334.6px"><col style="width:158.4px"><col style="width:246.2px"></colgroup><tr style="height:34.5px"><th style="font-weight:700;border:1.3px solid #4a4a4a;padding-bottom:5px"></th><th style="font-weight:700;border:1.3px solid #4a4a4a;padding-bottom:5px">Accuracy</th><th style="font-weight:700;border:1.3px solid #4a4a4a;padding-bottom:5px">Probability(AG)</th></tr><tr style="height:34.6px"><th style="font-weight:700;border:1.3px solid #4a4a4a;padding-bottom:5px">Lighter-skinned people</th><td style="font-weight:400;border:1.3px solid #4a4a4a;padding-bottom:5px">72.5%</td><td style="font-weight:400;border:1.3px solid #4a4a4a;padding-bottom:5px">0.62</td></tr><tr style="height:34.0px"><th style="font-weight:700;border:1.3px solid #4a4a4a;padding-bottom:5px">Darker-skinned people</th><td style="font-weight:400;border:1.3px solid #4a4a4a;padding-bottom:5px">60%</td><td style="font-weight:400;border:1.3px solid #4a4a4a;padding-bottom:5px">0.54</td></tr></table><table style="left:885.7px;top:1924.4px;width:737.1px;font-size:21.2px;table-layout:fixed"><colgroup><col style="width:268.6px"><col style="width:113.2px"><col style="width:179.7px"><col style="width:175.6px"></colgroup><tr style="height:24.8px"><th style="font-weight:700;border:1.1px solid #4a4a4a;padding-bottom:3.4px"></th><th style="font-weight:700;border:1.1px solid #4a4a4a;padding-bottom:3.4px">Accuracy</th><th style="font-weight:700;border:1.1px solid #4a4a4a;padding-bottom:3.4px">Probability(MB)</th><th style="font-weight:700;border:1.1px solid #4a4a4a;padding-bottom:3.4px">Probability(AG)</th></tr><tr style="height:24.9px"><th style="font-weight:700;border:1.1px solid #4a4a4a;padding-bottom:3.4px">Mortarboard without face</th><td style="font-weight:400;border:1.1px solid #4a4a4a;padding-bottom:3.4px">92.3%</td><td style="font-weight:400;border:1.1px solid #4a4a4a;padding-bottom:3.4px">0.77</td><td style="font-weight:400;border:1.1px solid #4a4a4a;padding-bottom:3.4px">0.05</td></tr><tr style="height:24.4px"><th style="font-weight:700;border:1.1px solid #4a4a4a;padding-bottom:3.4px">Mortarboard with face</th><td style="font-weight:400;border:1.1px solid #4a4a4a;padding-bottom:3.4px">70.5%</td><td style="font-weight:400;border:1.1px solid #4a4a4a;padding-bottom:3.4px">0.67</td><td style="font-weight:400;border:1.1px solid #4a4a4a;padding-bottom:3.4px">0.25</td></tr></table>
<h3 class="t" id="t18" style='left:926.80px;top:1520.40px;font:400 39.6px/1 "Liberation Sans", sans-serif;color:#000;transform:scaleX(0.9562);-webkit-text-stroke:1.5px #000;'>Academic Gown</h3>
<h3 class="t" id="t19" style='left:1338.88px;top:1518.20px;font:400 39.6px/1 "Liberation Sans", sans-serif;color:#000;transform:scaleX(1.0386);-webkit-text-stroke:1.5px #000;'>Mortarboard</h3>
<h3 class="t" id="t20" style='left:1141.72px;top:1798.90px;font:400 39.6px/1 "Liberation Sans", sans-serif;color:#000;transform:scaleX(0.9599);-webkit-text-stroke:1.5px #000;'>Racial Bias</h3>
<h3 class="t" id="t21" style='left:1059.90px;top:2032.50px;font:400 39.6px/1 "Liberation Sans", sans-serif;color:#000;transform:scaleX(1.0011);-webkit-text-stroke:1.5px #000;'>Spurious Correlations</h3>
</section>
<section>
<div class="bar" style="left:28.1px;top:1698.2px;width:814px;height:150.8px"></div>
<h2 class="t" id="t22" style='left:148.98px;top:1714.10px;font:400 55px/1 "DejaVu Sans", "Liberation Sans", sans-serif;color:#fff;transform:scaleX(0.9431);'>Prototypes have higher</h2>
<h2 class="t" id="t23" style='left:186.56px;top:1782.50px;font:400 55px/1 "DejaVu Sans", "Liberation Sans", sans-serif;color:#fff;transform:scaleX(0.9482);'>Spearman Similarity</h2>
<svg width="860" height="240" viewBox="0 1890 860 240" style="left:0;top:1890px" font-family="DejaVu Sans, Liberation Sans, sans-serif"><rect x="123.8" y="1904.5" width="662.7" height="174.5" fill="#fff" stroke="none"/><path d="M130.3 2045.1 L135.1 2042.8 L139.9 2034.3 L144.7 2037.4 L149.5 2030.5 L154.4 2018.2 L159.2 2005.9 L164.0 2007.4 L168.8 2001.3 L173.6 1993.6 L178.4 1986.6 L183.2 1987.4 L188.0 1985.9 L192.8 2004.3 L197.6 1995.9 L202.4 1995.5 L207.3 1998.9 L212.1 2003.2 L216.9 2000.5 L221.7 2003.9 L226.5 2005.1 L231.3 2006.8 L236.1 2004.7 L240.9 2003.4 L245.7 2002.8 L250.6 2004.5 L255.4 2004.7 L260.2 2005.7 L265.0 2002.0 L269.8 2003.9 L274.6 2002.8 L279.4 2000.2 L284.2 1999.2 L289.0 1995.1 L293.8 1990.8 L298.6 1990.3 L303.5 1989.1 L308.3 1985.6 L313.1 1982.8 L317.9 1983.6 L322.7 1983.6 L327.5 1983.6 L332.3 1983.6 L337.1 1983.3 L341.9 1986.9 L346.8 1989.7 L351.6 1986.6 L356.4 1985.9 L361.2 1989.0 L366.0 1985.1 L370.8 1983.6 L375.6 1981.8 L380.4 1984.0 L385.2 1981.5 L390.0 1979.0 L394.8 1977.2 L399.7 1974.6 L404.5 1972.0 L409.3 1975.5 L414.1 1974.3 L418.9 1975.6 L423.7 1975.0 L428.5 1973.6 L433.3 1974.1 L438.1 1975.4 L442.9 1972.8 L447.8 1975.1 L452.6 1971.3 L457.4 1969.7 L462.2 1967.4 L467.0 1965.9 L471.8 1962.8 L476.6 1968.2 L481.4 1965.4 L486.2 1970.2 L491.0 1975.1 L495.9 1978.2 L500.7 1975.1 L505.5 1963.6 L510.3 1965.9 L515.1 1968.2 L519.9 1962.0 L524.7 1959.0 L529.5 1954.3 L534.3 1955.1 L539.1 1953.6 L544.0 1966.6 L548.8 1963.6 L553.6 1965.9 L558.4 1968.2 L563.2 1967.4 L568.0 1968.2 L572.8 1969.7 L577.6 1966.6 L582.4 1969.7 L587.2 1965.9 L592.1 1959.0 L596.9 1949.7 L601.7 1945.1 L606.5 1945.1 L611.3 1954.3 L616.1 1950.0 L620.9 1951.0 L625.7 1949.7 L630.5 1946.9 L635.3 1947.9 L640.2 1945.1 L645.0 1942.6 L649.8 1939.4 L654.6 1940.7 L659.4 1939.0 L664.2 1936.7 L669.0 1933.6 L673.8 1930.9 L678.6 1929.7 L683.5 1934.7 L688.3 1934.4 L693.1 1933.6 L697.9 1932.0 L702.7 1932.0 L707.5 1933.6 L712.3 1933.6 L717.1 1932.0 L721.9 1933.6 L726.7 1931.3 L731.5 1925.9 L736.4 1917.4 L741.2 1913.6 L746.0 1912.8 L750.8 1916.7 L755.6 1913.6 L760.4 1913.8 L765.2 1914.9 L770.0 1915.1 L774.8 1917.8 L779.6 1920.5 L779.6 1925.9 L774.8 1925.5 L770.0 1925.1 L765.2 1924.1 L760.4 1922.3 L755.6 1921.3 L750.8 1929.0 L746.0 1935.1 L741.2 1935.9 L736.4 1937.4 L731.5 1941.3 L726.7 1943.6 L721.9 1945.1 L717.1 1942.8 L712.3 1947.4 L707.5 1950.5 L702.7 1949.0 L697.9 1949.0 L693.1 1949.0 L688.3 1948.2 L683.5 1952.8 L678.6 1952.0 L673.8 1952.0 L669.0 1953.6 L664.2 1954.7 L659.4 1955.1 L654.6 1956.3 L649.8 1954.3 L645.0 1957.4 L640.2 1959.7 L635.3 1962.0 L630.5 1959.0 L625.7 1960.5 L620.9 1961.3 L616.1 1961.3 L611.3 1966.6 L606.5 1981.3 L601.7 1981.3 L596.9 1980.5 L592.1 1982.0 L587.2 1985.4 L582.4 1988.7 L577.6 1985.1 L572.8 1989.5 L568.0 1989.2 L563.2 1989.7 L558.4 1993.3 L553.6 1993.8 L548.8 1994.3 L544.0 2005.1 L539.1 2012.0 L534.3 2015.1 L529.5 2016.6 L524.7 2021.2 L519.9 2025.9 L515.1 2031.2 L510.3 2019.7 L505.5 2022.0 L500.7 2002.8 L495.9 2002.8 L491.0 1996.6 L486.2 1992.8 L481.4 1989.5 L476.6 1993.8 L471.8 1990.5 L467.0 1992.8 L462.2 1993.6 L457.4 1995.1 L452.6 1995.9 L447.8 1998.9 L442.9 1995.9 L438.1 1998.4 L433.3 1997.2 L428.5 1996.6 L423.7 1996.5 L418.9 1995.6 L414.1 1992.8 L409.3 1997.4 L404.5 1997.4 L399.7 1997.9 L394.8 1998.4 L390.0 1998.2 L385.2 2000.9 L380.4 2003.6 L375.6 2001.6 L370.8 2003.6 L366.0 2001.3 L361.2 2001.3 L356.4 1999.5 L351.6 2001.5 L346.8 2005.9 L341.9 2006.6 L337.1 2006.6 L332.3 2006.6 L327.5 2002.8 L322.7 1998.9 L317.9 1997.4 L313.1 1995.1 L308.3 1998.5 L303.5 2002.6 L298.6 2004.5 L293.8 2005.6 L289.0 2010.5 L284.2 2014.8 L279.4 2016.1 L274.6 2018.9 L269.8 2021.6 L265.0 2021.2 L260.2 2025.7 L255.4 2025.5 L250.6 2026.1 L245.7 2025.1 L240.9 2026.9 L236.1 2029.5 L231.3 2032.8 L226.5 2031.2 L221.7 2027.8 L216.9 2022.0 L212.1 2025.5 L207.3 2022.0 L202.4 2017.4 L197.6 2016.6 L192.8 2025.9 L188.0 2042.0 L183.2 2042.8 L178.4 2045.1 L173.6 2048.9 L168.8 2052.0 L164.0 2062.0 L159.2 2055.1 L154.4 2058.9 L149.5 2062.8 L144.7 2069.7 L139.9 2066.6 L135.1 2070.5 L130.3 2071.2Z" fill="#d4e2f0"/><path d="M123.8 1928.2H786.5" stroke="#2e8b2e" stroke-width="1.6" stroke-dasharray="5.6 2.6" fill="none"/><path d="M123.8 2005.1H786.5" stroke="#111" stroke-width="1.6" stroke-dasharray="5.6 2.6" fill="none"/><path d="M130.3 2058.9 L135.1 2057.4 L139.9 2049.7 L144.7 2053.5 L149.5 2047.4 L154.4 2037.4 L159.2 2028.9 L164.0 2034.3 L168.8 2028.9 L173.6 2024.3 L178.4 2014.3 L183.2 2015.1 L188.0 2015.1 L192.8 2013.6 L197.6 2005.9 L202.4 2005.9 L207.3 2009.7 L212.1 2013.6 L216.9 2010.5 L221.7 2014.3 L226.5 2015.9 L231.3 2017.4 L236.1 2015.1 L240.9 2013.6 L245.7 2012.8 L250.6 2013.6 L255.4 2012.8 L260.2 2012.8 L265.0 2008.2 L269.8 2010.5 L274.6 2009.7 L279.4 2007.4 L284.2 2006.6 L289.0 2002.8 L293.8 1998.2 L298.6 1997.4 L303.5 1995.9 L308.3 1992.0 L313.1 1989.0 L317.9 1991.3 L322.7 1992.8 L327.5 1995.1 L332.3 1997.4 L337.1 1995.9 L341.9 1998.2 L346.8 1999.7 L351.6 1995.9 L356.4 1994.3 L361.2 1996.6 L366.0 1994.3 L370.8 1994.3 L375.6 1992.8 L380.4 1995.1 L385.2 1992.8 L390.0 1990.5 L394.8 1989.7 L399.7 1988.2 L404.5 1986.6 L409.3 1987.4 L414.1 1983.6 L418.9 1985.9 L423.7 1986.3 L428.5 1985.9 L433.3 1985.9 L438.1 1986.6 L442.9 1983.6 L447.8 1986.6 L452.6 1983.6 L457.4 1982.8 L462.2 1981.3 L467.0 1980.5 L471.8 1978.2 L476.6 1982.0 L481.4 1978.2 L486.2 1982.0 L491.0 1985.9 L495.9 1992.0 L500.7 1992.0 L505.5 1994.3 L510.3 1992.0 L515.1 2000.5 L519.9 1996.6 L524.7 1993.6 L529.5 1987.4 L534.3 1987.4 L539.1 1984.3 L544.0 1986.6 L548.8 1977.4 L553.6 1979.0 L558.4 1980.5 L563.2 1979.0 L568.0 1979.0 L572.8 1979.7 L577.6 1975.9 L582.4 1979.0 L587.2 1975.1 L592.1 1971.3 L596.9 1966.6 L601.7 1964.3 L606.5 1962.8 L611.3 1960.5 L616.1 1955.9 L620.9 1956.7 L625.7 1955.1 L630.5 1952.8 L635.3 1954.3 L640.2 1952.0 L645.0 1949.7 L649.8 1946.7 L654.6 1948.2 L659.4 1946.7 L664.2 1945.9 L669.0 1944.3 L673.8 1942.0 L678.6 1941.3 L683.5 1943.6 L688.3 1940.5 L693.1 1940.5 L697.9 1939.7 L702.7 1939.7 L707.5 1941.3 L712.3 1939.7 L717.1 1936.7 L721.9 1939.0 L726.7 1937.4 L731.5 1935.1 L736.4 1931.3 L741.2 1927.4 L746.0 1924.4 L750.8 1921.3 L755.6 1917.4 L760.4 1918.2 L765.2 1919.7 L770.0 1920.5 L774.8 1922.0 L779.6 1923.6" stroke="#f0a030" stroke-width="2.1" fill="none" stroke-linejoin="round"/><rect x="123.8" y="1904.5" width="662.7" height="174.5" fill="none" stroke="#333" stroke-width="1"/><path d="M121.2 1928.2H123.8" stroke="#333" stroke-width="0.8"/><text x="119.2" y="1930.9" text-anchor="end" font-size="7.6" fill="#444">1.0</text><path d="M121.2 1966.6H123.8" stroke="#333" stroke-width="0.8"/><text x="119.2" y="1969.3" text-anchor="end" font-size="7.6" fill="#444">0.5</text><path d="M121.2 2005.1H123.8" stroke="#333" stroke-width="0.8"/><text x="119.2" y="2007.8" text-anchor="end" font-size="7.6" fill="#444">0.0</text><path d="M121.2 2043.5H123.8" stroke="#333" stroke-width="0.8"/><text x="119.2" y="2046.2" text-anchor="end" font-size="7.6" fill="#444">−0.5</text><path d="M130.3 2079.0v2.6" stroke="#333" stroke-width="0.8"/><text x="130.3" y="2091.2" text-anchor="middle" font-size="7.6" fill="#444">0</text><path d="M226.5 2079.0v2.6" stroke="#333" stroke-width="0.8"/><text x="226.5" y="2091.2" text-anchor="middle" font-size="7.6" fill="#444">20</text><path d="M322.7 2079.0v2.6" stroke="#333" stroke-width="0.8"/><text x="322.7" y="2091.2" text-anchor="middle" font-size="7.6" fill="#444">40</text><path d="M418.9 2079.0v2.6" stroke="#333" stroke-width="0.8"/><text x="418.9" y="2091.2" text-anchor="middle" font-size="7.6" fill="#444">60</text><path d="M515.1 2079.0v2.6" stroke="#333" stroke-width="0.8"/><text x="515.1" y="2091.2" text-anchor="middle" font-size="7.6" fill="#444">80</text><path d="M611.3 2079.0v2.6" stroke="#333" stroke-width="0.8"/><text x="611.3" y="2091.2" text-anchor="middle" font-size="7.6" fill="#444">100</text><path d="M707.5 2079.0v2.6" stroke="#333" stroke-width="0.8"/><text x="707.5" y="2091.2" text-anchor="middle" font-size="7.6" fill="#444">120</text><text x="455" y="2105.2" text-anchor="middle" font-size="11" fill="#333" textLength="245" lengthAdjust="spacingAndGlyphs">InceptionV1 layer index (input → output)</text><text transform="translate(93.8 1992) rotate(-90)" text-anchor="middle" font-size="11" fill="#333" textLength="124" lengthAdjust="spacingAndGlyphs">Normalized similarity</text><text x="174.2" y="1916.8" font-size="11" fill="#3a8c34" textLength="310.5" lengthAdjust="spacingAndGlyphs">natural images vs. natural images of the same class</text><path d="M173 1919.5L157 1925.5" stroke="#2e8b2e" stroke-width="1.1"/><path d="M153.8 1926.8L159.2 1922.6L160.4 1926.4Z" fill="#2e8b2e"/><text x="438.9" y="2043.3" font-size="11" fill="#333" textLength="318.5" lengthAdjust="spacingAndGlyphs">natural images vs. natural images of different classes</text><path d="M437 2033L421.5 2010" stroke="#222" stroke-width="1.1"/><path d="M419.4 2006.4L424.4 2010.2L420.8 2012.6Z" fill="#222"/><text x="207.7" y="2058.8" font-size="11" fill="#efac48" textLength="348" lengthAdjust="spacingAndGlyphs">natural images vs. feature visualizations of the same class</text><path d="M206.5 2050.5L190 2020.5" stroke="#f0a030" stroke-width="1.1"/><path d="M188 2016.8L192.8 2021.2L189.2 2023.2Z" fill="#f0a030"/></svg>
<svg width="860" height="220" viewBox="0 2180 860 220" style="left:0;top:2180px" font-family="Liberation Sans, sans-serif"><rect x="107.1" y="2191.4" width="681.6999999999999" height="163.5999999999999" fill="#eaeaf2"/><path d="M107.1 2337.5H788.8" stroke="#f6f6fa" stroke-width="0.8"/><path d="M107.1 2305.1H788.8" stroke="#f6f6fa" stroke-width="0.8"/><path d="M107.1 2272.6H788.8" stroke="#f6f6fa" stroke-width="0.8"/><path d="M107.1 2240.2H788.8" stroke="#f6f6fa" stroke-width="0.8"/><path d="M107.1 2207.7H788.8" stroke="#f6f6fa" stroke-width="0.8"/><path d="M183.5 2191.4V2355.0" stroke="#f6f6fa" stroke-width="0.8"/><path d="M259.9 2191.4V2355.0" stroke="#f6f6fa" stroke-width="0.8"/><path d="M336.3 2191.4V2355.0" stroke="#f6f6fa" stroke-width="0.8"/><path d="M412.7 2191.4V2355.0" stroke="#f6f6fa" stroke-width="0.8"/><path d="M489.1 2191.4V2355.0" stroke="#f6f6fa" stroke-width="0.8"/><path d="M565.5 2191.4V2355.0" stroke="#f6f6fa" stroke-width="0.8"/><path d="M641.9 2191.4V2355.0" stroke="#f6f6fa" stroke-width="0.8"/><path d="M718.3 2191.4V2355.0" stroke="#f6f6fa" stroke-width="0.8"/><clipPath id="c2"><rect x="107.1" y="2191.4" width="681.6999999999999" height="163.5999999999999"/></clipPath><g clip-path="url(#c2)"><path d="M107.1 2210.9 L110.2 2207.7 L113.2 2243.4 L116.3 2229.1 L119.3 2214.8 L122.4 2200.6 L125.4 2203.8 L128.5 2209.0 L131.5 2214.2 L134.6 2292.1 L137.7 2303.8 L140.7 2318.0 L143.8 2281.0 L146.8 2289.5 L149.9 2294.0 L152.9 2296.6 L156.0 2296.5 L159.1 2292.5 L162.1 2290.8 L165.2 2290.8 L168.2 2289.5 L171.3 2287.9 L174.3 2291.3 L177.4 2293.0 L180.4 2292.2 L183.5 2294.7 L186.6 2297.4 L189.6 2302.8 L192.7 2306.2 L195.7 2309.6 L198.8 2310.2 L201.8 2310.1 L204.9 2309.1 L207.9 2308.0 L211.0 2310.2 L214.1 2307.0 L217.1 2305.1 L220.2 2303.9 L223.2 2302.7 L226.3 2302.2 L229.3 2301.7 L232.4 2300.5 L235.5 2294.0 L238.5 2293.4 L241.6 2292.5 L244.6 2293.6 L247.7 2296.6 L250.7 2297.6 L253.8 2297.9 L256.8 2301.8 L259.9 2305.7 L263.0 2308.9 L266.0 2318.0 L269.1 2320.2 L272.1 2323.0 L275.2 2325.2 L278.2 2325.2 L281.3 2325.2 L284.3 2325.2 L287.4 2324.5 L290.5 2324.2 L293.5 2324.5 L296.6 2325.2 L299.6 2326.8 L302.7 2324.1 L305.7 2321.7 L308.8 2318.7 L311.9 2314.7 L314.9 2311.0 L318.0 2307.6 L321.0 2306.6 L324.1 2305.5 L327.1 2305.4 L330.2 2306.0 L333.2 2308.3 L336.3 2311.9 L339.4 2316.1 L342.4 2321.6 L345.5 2327.1 L348.5 2329.1 L351.6 2329.1 L354.6 2329.1 L357.7 2327.4 L360.7 2326.5 L363.8 2325.2 L366.9 2325.2 L369.9 2327.1 L373.0 2328.4 L376.0 2328.2 L379.1 2327.0 L382.1 2326.1 L385.2 2326.5 L388.3 2326.5 L391.3 2326.1 L394.4 2325.4 L397.4 2326.5 L400.5 2326.5 L403.5 2326.5 L406.6 2326.6 L409.6 2328.0 L412.7 2329.4 L415.8 2328.4 L418.8 2327.1 L421.9 2327.4 L424.9 2326.8 L428.0 2325.8 L431.0 2325.2 L434.1 2324.5 L437.1 2325.2 L440.2 2324.8 L443.3 2324.5 L446.3 2322.9 L449.4 2321.3 L452.4 2320.3 L455.5 2319.3 L458.5 2319.8 L461.6 2320.2 L464.7 2321.0 L467.7 2321.7 L470.8 2322.3 L473.8 2322.9 L476.9 2324.4 L479.9 2326.8 L483.0 2327.6 L486.0 2328.4 L489.1 2328.6 L492.2 2328.1 L495.2 2327.5 L498.3 2326.7 L501.3 2326.0 L504.4 2325.6 L507.4 2325.2 L510.5 2317.4 L513.5 2309.6 L516.6 2305.1 L519.7 2300.5 L522.7 2299.9 L525.8 2299.2 L528.8 2298.9 L531.9 2298.6 L534.9 2303.8 L538.0 2308.9 L541.1 2316.4 L544.1 2321.6 L547.2 2327.1 L550.2 2329.1 L553.3 2328.9 L556.3 2328.7 L559.4 2327.8 L562.4 2327.4 L565.5 2327.1 L568.6 2326.5 L571.6 2325.8 L574.7 2325.2 L577.7 2324.5 L580.8 2322.5 L583.8 2320.4 L586.9 2319.0 L589.9 2318.0 L593.0 2316.6 L596.1 2315.8 L599.1 2315.4 L602.2 2317.1 L605.2 2318.7 L608.3 2321.6 L611.3 2325.0 L614.4 2327.8 L617.5 2330.4 L620.5 2330.2 L623.6 2330.0 L626.6 2329.9 L629.7 2329.8 L632.7 2329.7 L635.8 2329.5 L638.8 2329.3 L641.9 2329.1 L645.0 2329.1 L648.0 2329.2 L651.1 2329.3 L654.1 2329.3 L657.2 2329.4 L660.2 2329.5 L663.3 2329.6 L666.3 2329.8 L669.4 2329.9 L672.5 2330.0 L675.5 2330.1 L678.6 2330.2 L681.6 2330.2 L684.7 2330.3 L687.7 2330.4 L690.8 2330.3 L693.9 2330.1 L696.9 2330.0 L700.0 2329.8 L703.0 2329.6 L706.1 2329.4 L709.1 2327.7 L712.2 2326.3 L715.2 2326.0 L718.3 2325.8 L721.4 2325.2 L724.4 2324.6 L727.5 2323.9 L730.5 2299.2 L733.6 2299.0 L736.6 2298.9 L739.7 2288.6 L742.7 2288.7 L745.8 2288.7 L748.9 2288.8 L751.9 2289.1 L755.0 2299.9 L758.0 2301.2 L761.1 2324.6 L764.1 2325.0 L767.2 2325.5 L770.3 2326.1 L773.3 2327.4 L776.4 2327.7 L779.4 2327.9 L782.5 2328.1 L785.5 2328.2 L788.6 2328.4 L788.6 2332.3 L785.5 2332.3 L782.5 2332.2 L779.4 2332.2 L776.4 2332.1 L773.3 2332.0 L770.3 2330.8 L767.2 2330.3 L764.1 2329.9 L761.1 2329.6 L758.0 2306.3 L755.0 2305.7 L751.9 2315.8 L748.9 2315.4 L745.8 2315.4 L742.7 2315.3 L739.7 2315.2 L736.6 2304.7 L733.6 2304.6 L730.5 2304.4 L727.5 2329.1 L724.4 2329.6 L721.4 2330.0 L718.3 2330.4 L715.2 2330.5 L712.2 2330.5 L709.1 2331.8 L706.1 2333.3 L703.0 2333.5 L700.0 2333.7 L696.9 2333.9 L693.9 2334.0 L690.8 2334.1 L687.7 2334.3 L684.7 2334.2 L681.6 2334.1 L678.6 2334.1 L675.5 2334.0 L672.5 2333.9 L669.4 2333.8 L666.3 2333.7 L663.3 2333.5 L660.2 2333.4 L657.2 2333.3 L654.1 2333.2 L651.1 2333.2 L648.0 2333.1 L645.0 2333.0 L641.9 2333.0 L638.8 2333.2 L635.8 2333.4 L632.7 2333.6 L629.7 2333.7 L626.6 2333.8 L623.6 2333.9 L620.5 2334.1 L617.5 2335.2 L614.4 2335.2 L611.3 2336.7 L608.3 2338.1 L605.2 2339.8 L602.2 2341.4 L599.1 2340.4 L596.1 2339.4 L593.0 2337.6 L589.9 2335.7 L586.9 2333.3 L583.8 2332.1 L580.8 2331.6 L577.7 2331.0 L574.7 2331.7 L571.6 2332.3 L568.6 2333.0 L565.5 2333.6 L562.4 2333.9 L559.4 2334.3 L556.3 2335.2 L553.3 2335.4 L550.2 2335.6 L547.2 2333.6 L544.1 2332.6 L541.1 2332.0 L538.0 2333.0 L534.9 2336.2 L531.9 2341.4 L528.8 2339.2 L525.8 2337.1 L522.7 2334.9 L519.7 2331.9 L516.6 2332.1 L513.5 2332.3 L510.5 2332.0 L507.4 2331.7 L504.4 2331.9 L501.3 2332.1 L498.3 2332.7 L495.2 2333.2 L492.2 2333.6 L489.1 2334.0 L486.0 2333.6 L483.0 2333.1 L479.9 2332.6 L476.9 2330.5 L473.8 2329.4 L470.8 2329.0 L467.7 2328.6 L464.7 2328.1 L461.6 2327.5 L458.5 2327.3 L455.5 2327.1 L452.4 2327.4 L449.4 2327.8 L446.3 2328.7 L443.3 2329.7 L440.2 2330.0 L437.1 2330.4 L434.1 2329.7 L431.0 2330.4 L428.0 2331.0 L424.9 2332.0 L421.9 2332.6 L418.8 2332.3 L415.8 2333.6 L412.7 2334.6 L409.6 2336.9 L406.6 2339.1 L403.5 2342.7 L400.5 2345.9 L397.4 2347.2 L394.4 2347.4 L391.3 2346.7 L388.3 2345.6 L385.2 2344.2 L382.1 2342.4 L379.1 2340.0 L376.0 2337.9 L373.0 2334.9 L369.9 2333.6 L366.9 2331.7 L363.8 2331.7 L360.7 2333.0 L357.7 2333.9 L354.6 2335.6 L351.6 2335.6 L348.5 2335.6 L345.5 2333.6 L342.4 2332.6 L339.4 2331.7 L336.3 2331.3 L333.2 2331.7 L330.2 2330.7 L327.1 2331.3 L324.1 2329.1 L321.0 2327.8 L318.0 2326.5 L314.9 2327.4 L311.9 2328.7 L308.8 2330.4 L305.7 2331.7 L302.7 2332.3 L299.6 2333.3 L296.6 2331.7 L293.5 2331.0 L290.5 2330.7 L287.4 2331.0 L284.3 2331.7 L281.3 2331.7 L278.2 2331.7 L275.2 2331.7 L272.1 2331.0 L269.1 2329.7 L266.0 2329.1 L263.0 2322.6 L259.9 2321.9 L256.8 2321.0 L253.8 2320.0 L250.7 2317.1 L247.7 2313.5 L244.6 2308.5 L241.6 2305.5 L238.5 2304.4 L235.5 2304.4 L232.4 2310.2 L229.3 2311.8 L226.3 2312.7 L223.2 2313.6 L220.2 2315.2 L217.1 2316.7 L214.1 2320.6 L211.0 2325.8 L207.9 2323.6 L204.9 2324.6 L201.8 2325.7 L198.8 2325.8 L195.7 2325.2 L192.7 2320.8 L189.6 2316.4 L186.6 2310.1 L183.5 2306.3 L180.4 2304.7 L177.4 2306.3 L174.3 2305.4 L171.3 2302.8 L168.2 2304.6 L165.2 2306.1 L162.1 2306.3 L159.1 2310.0 L156.0 2316.0 L152.9 2318.0 L149.9 2315.1 L146.8 2310.2 L143.8 2303.8 L140.7 2346.6 L137.7 2346.6 L134.6 2345.9 L131.5 2280.4 L128.5 2281.0 L125.4 2271.3 L122.4 2268.7 L119.3 2270.7 L116.3 2272.6 L113.2 2274.5 L110.2 2223.9 L107.1 2230.4Z" fill="#4c72b0" fill-opacity="0.2"/><path d="M107.1 2330.7H788.8" stroke="#4c72b0" stroke-width="0.9" stroke-dasharray="3 1.6" fill="none"/><path d="M107.1 2337.5H788.8" stroke="#c44e52" stroke-width="0.9" stroke-dasharray="3 1.6" fill="none"/><path d="M107.1 2220.7 L110.2 2216.1 L113.2 2258.3 L116.3 2251.2 L119.3 2244.0 L122.4 2236.9 L125.4 2240.8 L128.5 2244.7 L131.5 2248.6 L134.6 2318.0 L137.7 2323.2 L140.7 2331.7 L143.8 2290.1 L146.8 2298.6 L149.9 2303.8 L152.9 2307.0 L156.0 2306.0 L159.1 2301.2 L162.1 2298.6 L165.2 2298.6 L168.2 2297.3 L171.3 2295.6 L174.3 2298.6 L177.4 2299.9 L180.4 2298.6 L183.5 2300.5 L186.6 2303.8 L189.6 2309.6 L192.7 2313.5 L195.7 2317.4 L198.8 2318.4 L201.8 2318.7 L204.9 2318.0 L207.9 2317.4 L211.0 2320.0 L214.1 2314.8 L217.1 2310.9 L220.2 2309.6 L223.2 2308.3 L226.3 2307.6 L229.3 2307.0 L232.4 2305.7 L235.5 2299.5 L238.5 2299.2 L241.6 2299.2 L244.6 2301.2 L247.7 2305.1 L250.7 2307.0 L253.8 2308.3 L256.8 2310.9 L259.9 2313.5 L263.0 2315.8 L266.0 2323.9 L269.1 2325.2 L272.1 2327.1 L275.2 2328.4 L278.2 2328.4 L281.3 2328.4 L284.3 2328.4 L287.4 2327.8 L290.5 2327.4 L293.5 2327.8 L296.6 2328.4 L299.6 2330.0 L302.7 2328.4 L305.7 2327.1 L308.8 2325.2 L311.9 2322.2 L314.9 2319.7 L318.0 2317.4 L321.0 2317.4 L324.1 2317.4 L327.1 2318.4 L330.2 2318.4 L333.2 2320.0 L336.3 2321.6 L339.4 2323.9 L342.4 2327.1 L345.5 2330.4 L348.5 2332.3 L351.6 2332.3 L354.6 2332.3 L357.7 2330.7 L360.7 2329.7 L363.8 2328.4 L366.9 2328.4 L369.9 2330.4 L373.0 2331.7 L376.0 2333.0 L379.1 2333.3 L382.1 2333.9 L385.2 2335.2 L388.3 2336.2 L391.3 2336.9 L394.4 2337.0 L397.4 2336.9 L400.5 2335.6 L403.5 2334.3 L406.6 2332.6 L409.6 2332.3 L412.7 2332.0 L415.8 2331.0 L418.8 2329.7 L421.9 2330.0 L424.9 2329.4 L428.0 2328.4 L431.0 2327.8 L434.1 2327.1 L437.1 2327.8 L440.2 2327.4 L443.3 2327.1 L446.3 2325.8 L449.4 2324.5 L452.4 2323.9 L455.5 2323.2 L458.5 2323.5 L461.6 2323.9 L464.7 2324.5 L467.7 2325.2 L470.8 2325.7 L473.8 2326.1 L476.9 2327.4 L479.9 2329.7 L483.0 2330.4 L486.0 2331.0 L489.1 2331.3 L492.2 2330.8 L495.2 2330.4 L498.3 2329.7 L501.3 2329.1 L504.4 2328.7 L507.4 2328.4 L510.5 2325.5 L513.5 2322.6 L516.6 2320.0 L519.7 2317.4 L522.7 2318.0 L525.8 2318.7 L528.8 2319.3 L531.9 2320.0 L534.9 2320.6 L538.0 2321.3 L541.1 2324.2 L544.1 2327.1 L547.2 2330.4 L550.2 2332.3 L553.3 2332.1 L556.3 2332.0 L559.4 2331.0 L562.4 2330.7 L565.5 2330.4 L568.6 2329.7 L571.6 2329.1 L574.7 2328.4 L577.7 2327.8 L580.8 2326.8 L583.8 2325.8 L586.9 2325.5 L589.9 2326.1 L593.0 2326.3 L596.1 2326.5 L599.1 2327.1 L602.2 2327.8 L605.2 2328.4 L608.3 2329.1 L611.3 2330.2 L614.4 2331.3 L617.5 2332.3 L620.5 2332.1 L623.6 2332.0 L626.6 2331.9 L629.7 2331.8 L632.7 2331.7 L635.8 2331.4 L638.8 2331.2 L641.9 2331.0 L645.0 2331.1 L648.0 2331.1 L651.1 2331.2 L654.1 2331.3 L657.2 2331.3 L660.2 2331.5 L663.3 2331.6 L666.3 2331.7 L669.4 2331.9 L672.5 2332.0 L675.5 2332.0 L678.6 2332.1 L681.6 2332.2 L684.7 2332.2 L687.7 2332.3 L690.8 2332.2 L693.9 2332.1 L696.9 2332.0 L700.0 2331.8 L703.0 2331.6 L706.1 2331.3 L709.1 2329.7 L712.2 2328.4 L715.2 2328.3 L718.3 2328.1 L721.4 2327.6 L724.4 2327.1 L727.5 2326.5 L730.5 2302.5 L733.6 2302.3 L736.6 2302.1 L739.7 2302.2 L742.7 2302.3 L745.8 2302.4 L748.9 2302.5 L751.9 2302.8 L755.0 2303.1 L758.0 2303.8 L761.1 2327.1 L764.1 2327.4 L767.2 2327.9 L770.3 2328.4 L773.3 2329.7 L776.4 2329.9 L779.4 2330.0 L782.5 2330.1 L785.5 2330.3 L788.6 2330.4" stroke="#4c72b0" stroke-width="1.1" fill="none" stroke-linejoin="round"/></g><text x="98.6" y="2339.5" text-anchor="end" font-size="5.6" fill="#333">0</text><text x="98.6" y="2307.1" text-anchor="end" font-size="5.6" fill="#333">5</text><text x="98.6" y="2274.6" text-anchor="end" font-size="5.6" fill="#333">10</text><text x="98.6" y="2242.2" text-anchor="end" font-size="5.6" fill="#333">15</text><text x="98.6" y="2209.7" text-anchor="end" font-size="5.6" fill="#333">20</text><text x="107.1" y="2366" text-anchor="middle" font-size="5.6" fill="#333">0</text><text x="183.5" y="2366" text-anchor="middle" font-size="5.6" fill="#333">25</text><text x="259.9" y="2366" text-anchor="middle" font-size="5.6" fill="#333">50</text><text x="336.3" y="2366" text-anchor="middle" font-size="5.6" fill="#333">75</text><text x="412.7" y="2366" text-anchor="middle" font-size="5.6" fill="#333">100</text><text x="489.1" y="2366" text-anchor="middle" font-size="5.6" fill="#333">125</text><text x="565.5" y="2366" text-anchor="middle" font-size="5.6" fill="#333">150</text><text x="641.9" y="2366" text-anchor="middle" font-size="5.6" fill="#333">175</text><text x="718.3" y="2366" text-anchor="middle" font-size="5.6" fill="#333">200</text><text x="448.2" y="2375.2" text-anchor="middle" font-size="5.9" fill="#333" textLength="81" lengthAdjust="spacingAndGlyphs">Layer index: InceptionV1</text><text transform="translate(89.2 2273.5) rotate(-90)" text-anchor="middle" font-size="5.9" fill="#333" textLength="160" lengthAdjust="spacingAndGlyphs">Normalised Spearman similarity (higher is better)</text><rect x="718.8" y="2194.5" width="67.4" height="30.8" rx="1.2" fill="#eaeaf2" stroke="#d4d4dc" stroke-width="0.6"/><path d="M721.5 2199.6h14" stroke="#4c72b0" stroke-width="0.9" stroke-dasharray="3 1.6"/><text x="740.5" y="2201.6" font-size="5.6" fill="#333">Same class</text><path d="M721.5 2209.5h14" stroke="#c44e52" stroke-width="0.9" stroke-dasharray="3 1.6"/><text x="740.5" y="2211.5" font-size="5.6" fill="#333">Different class</text><path d="M721.5 2219.4h14" stroke="#4c72b0" stroke-width="0.9"/><text x="740.5" y="2221.4" font-size="5.6" fill="#333">Prototype</text></svg>
<h3 class="t" id="t24" style='left:238.91px;top:2132.20px;font:400 39.6px/1 "Liberation Sans", sans-serif;color:#000;transform:scaleX(0.9979);-webkit-text-stroke:1.5px #000;'>Feature Visualisation</h3>
<h3 class="t" id="t25" style='left:224.07px;top:2406.40px;font:400 39.6px/1 "Liberation Sans", sans-serif;color:#000;transform:scaleX(1.0091);-webkit-text-stroke:1.5px #000;'>Prototype Generation</h3>
</section>
<section>
<div class="bar" style="left:877.1px;top:2134.2px;width:755.4px;height:79.2px"></div>
<h2 class="t" id="t26" style='left:950.56px;top:2148.60px;font:400 55px/1 "DejaVu Sans", "Liberation Sans", sans-serif;color:#fff;transform:scaleX(0.9479);'>For more Leap Labs info!</h2>
<svg width="131.25" height="131.25" viewBox="0 0 25 25" style="left:1028.3px;top:2244.3px" shape-rendering="crispEdges"><path d="M0 0h7v1h-7zM8 0h4v1h-4zM14 0h1v1h-1zM18 0h7v1h-7zM0 1h1v1h-1zM6 1h1v1h-1zM8 1h4v1h-4zM13 1h1v1h-1zM16 1h1v1h-1zM18 1h1v1h-1zM24 1h1v1h-1zM0 2h1v1h-1zM2 2h3v1h-3zM6 2h1v1h-1zM8 2h3v1h-3zM13 2h1v1h-1zM15 2h1v1h-1zM18 2h1v1h-1zM20 2h3v1h-3zM24 2h1v1h-1zM0 3h1v1h-1zM2 3h3v1h-3zM6 3h1v1h-1zM12 3h2v1h-2zM15 3h2v1h-2zM18 3h1v1h-1zM20 3h3v1h-3zM24 3h1v1h-1zM0 4h1v1h-1zM2 4h3v1h-3zM6 4h1v1h-1zM8 4h1v1h-1zM10 4h1v1h-1zM12 4h1v1h-1zM14 4h1v1h-1zM18 4h1v1h-1zM20 4h3v1h-3zM24 4h1v1h-1zM0 5h1v1h-1zM6 5h1v1h-1zM16 5h1v1h-1zM18 5h1v1h-1zM24 5h1v1h-1zM0 6h7v1h-7zM8 6h1v1h-1zM10 6h1v1h-1zM12 6h1v1h-1zM14 6h1v1h-1zM16 6h1v1h-1zM18 6h7v1h-7zM9 7h3v1h-3zM13 7h1v1h-1zM0 8h1v1h-1zM3 8h6v1h-6zM12 8h1v1h-1zM14 8h2v1h-2zM17 8h1v1h-1zM20 8h1v1h-1zM22 8h3v1h-3zM1 9h5v1h-5zM7 9h2v1h-2zM10 9h2v1h-2zM14 9h2v1h-2zM17 9h1v1h-1zM19 9h5v1h-5zM2 10h1v1h-1zM4 10h1v1h-1zM6 10h2v1h-2zM9 10h2v1h-2zM12 10h5v1h-5zM18 10h2v1h-2zM21 10h1v1h-1zM24 10h1v1h-1zM0 11h2v1h-2zM3 11h1v1h-1zM5 11h1v1h-1zM7 11h1v1h-1zM9 11h1v1h-1zM12 11h1v1h-1zM16 11h1v1h-1zM19 11h1v1h-1zM21 11h4v1h-4zM0 12h1v1h-1zM2 12h1v1h-1zM4 12h4v1h-4zM9 12h1v1h-1zM11 12h2v1h-2zM15 12h2v1h-2zM18 12h1v1h-1zM24 12h1v1h-1zM0 13h1v1h-1zM2 13h2v1h-2zM5 13h1v1h-1zM8 13h3v1h-3zM13 13h1v1h-1zM15 13h3v1h-3zM20 13h1v1h-1zM23 13h1v1h-1zM0 14h3v1h-3zM4 14h1v1h-1zM6 14h4v1h-4zM11 14h2v1h-2zM15 14h1v1h-1zM17 14h2v1h-2zM20 14h5v1h-5zM0 15h1v1h-1zM4 15h1v1h-1zM7 15h1v1h-1zM9 15h3v1h-3zM17 15h1v1h-1zM19 15h1v1h-1zM21 15h2v1h-2zM24 15h1v1h-1zM0 16h1v1h-1zM2 16h1v1h-1zM5 16h2v1h-2zM10 16h1v1h-1zM12 16h9v1h-9zM22 16h2v1h-2zM8 17h2v1h-2zM11 17h3v1h-3zM16 17h1v1h-1zM20 17h1v1h-1zM22 17h2v1h-2zM0 18h7v1h-7zM8 18h1v1h-1zM11 18h1v1h-1zM16 18h1v1h-1zM18 18h1v1h-1zM20 18h1v1h-1zM24 18h1v1h-1zM0 19h1v1h-1zM6 19h1v1h-1zM8 19h3v1h-3zM13 19h4v1h-4zM20 19h1v1h-1zM23 19h2v1h-2zM0 20h1v1h-1zM2 20h3v1h-3zM6 20h1v1h-1zM8 20h2v1h-2zM11 20h2v1h-2zM14 20h7v1h-7zM0 21h1v1h-1zM2 21h3v1h-3zM6 21h1v1h-1zM8 21h4v1h-4zM14 21h1v1h-1zM16 21h1v1h-1zM18 21h1v1h-1zM23 21h2v1h-2zM0 22h1v1h-1zM2 22h3v1h-3zM6 22h1v1h-1zM10 22h2v1h-2zM13 22h2v1h-2zM16 22h2v1h-2zM20 22h5v1h-5zM0 23h1v1h-1zM6 23h1v1h-1zM9 23h1v1h-1zM14 23h1v1h-1zM19 23h2v1h-2zM22 23h3v1h-3zM0 24h7v1h-7zM8 24h1v1h-1zM10 24h1v1h-1zM12 24h1v1h-1zM16 24h2v1h-2zM21 24h1v1h-1zM24 24h1v1h-1z" fill="#000"/></svg><svg width="132.7" height="132.7" viewBox="0 0 29 29" style="left:1350.5px;top:2244.5px" shape-rendering="crispEdges"><path d="M0 0h7v1h-7zM10 0h3v1h-3zM15 0h2v1h-2zM18 0h3v1h-3zM22 0h7v1h-7zM0 1h1v1h-1zM6 1h1v1h-1zM9 1h1v1h-1zM12 1h1v1h-1zM18 1h1v1h-1zM20 1h1v1h-1zM22 1h1v1h-1zM28 1h1v1h-1zM0 2h1v1h-1zM2 2h3v1h-3zM6 2h1v1h-1zM8 2h3v1h-3zM12 2h1v1h-1zM14 2h1v1h-1zM16 2h1v1h-1zM20 2h1v1h-1zM22 2h1v1h-1zM24 2h3v1h-3zM28 2h1v1h-1zM0 3h1v1h-1zM2 3h3v1h-3zM6 3h1v1h-1zM8 3h1v1h-1zM10 3h1v1h-1zM16 3h2v1h-2zM22 3h1v1h-1zM24 3h3v1h-3zM28 3h1v1h-1zM0 4h1v1h-1zM2 4h3v1h-3zM6 4h1v1h-1zM8 4h8v1h-8zM19 4h2v1h-2zM22 4h1v1h-1zM24 4h3v1h-3zM28 4h1v1h-1zM0 5h1v1h-1zM6 5h1v1h-1zM8 5h2v1h-2zM12 5h5v1h-5zM18 5h1v1h-1zM22 5h1v1h-1zM28 5h1v1h-1zM0 6h7v1h-7zM8 6h1v1h-1zM10 6h1v1h-1zM12 6h1v1h-1zM14 6h1v1h-1zM16 6h1v1h-1zM18 6h1v1h-1zM20 6h1v1h-1zM22 6h7v1h-7zM8 7h1v1h-1zM10 7h4v1h-4zM15 7h1v1h-1zM18 7h1v1h-1zM20 7h1v1h-1zM0 8h1v1h-1zM2 8h5v1h-5zM9 8h1v1h-1zM11 8h1v1h-1zM14 8h2v1h-2zM19 8h1v1h-1zM22 8h5v1h-5zM1 9h2v1h-2zM5 9h1v1h-1zM7 9h3v1h-3zM12 9h1v1h-1zM15 9h3v1h-3zM20 9h1v1h-1zM22 9h3v1h-3zM28 9h1v1h-1zM0 10h3v1h-3zM6 10h2v1h-2zM9 10h1v1h-1zM17 10h1v1h-1zM20 10h1v1h-1zM24 10h1v1h-1zM0 11h3v1h-3zM4 11h1v1h-1zM7 11h1v1h-1zM11 11h1v1h-1zM14 11h1v1h-1zM16 11h1v1h-1zM19 11h3v1h-3zM23 11h3v1h-3zM27 11h1v1h-1zM0 12h1v1h-1zM2 12h1v1h-1zM6 12h2v1h-2zM9 12h3v1h-3zM16 12h1v1h-1zM19 12h1v1h-1zM23 12h1v1h-1zM25 12h2v1h-2zM2 13h1v1h-1zM8 13h1v1h-1zM10 13h1v1h-1zM13 13h3v1h-3zM17 13h3v1h-3zM21 13h4v1h-4zM28 13h1v1h-1zM0 14h1v1h-1zM3 14h1v1h-1zM5 14h5v1h-5zM11 14h1v1h-1zM13 14h4v1h-4zM20 14h1v1h-1zM23 14h4v1h-4zM1 15h3v1h-3zM5 15h1v1h-1zM12 15h2v1h-2zM15 15h1v1h-1zM18 15h1v1h-1zM20 15h1v1h-1zM27 15h1v1h-1zM0 16h7v1h-7zM9 16h3v1h-3zM14 16h2v1h-2zM17 16h1v1h-1zM19 16h1v1h-1zM25 16h2v1h-2zM0 17h1v1h-1zM2 17h1v1h-1zM9 17h2v1h-2zM12 17h1v1h-1zM15 17h2v1h-2zM18 17h3v1h-3zM22 17h3v1h-3zM26 17h1v1h-1zM28 17h1v1h-1zM0 18h1v1h-1zM3 18h4v1h-4zM8 18h1v1h-1zM10 18h1v1h-1zM12 18h1v1h-1zM18 18h1v1h-1zM20 18h2v1h-2zM23 18h1v1h-1zM26 18h1v1h-1zM0 19h1v1h-1zM2 19h1v1h-1zM4 19h2v1h-2zM7 19h4v1h-4zM12 19h1v1h-1zM14 19h1v1h-1zM16 19h1v1h-1zM19 19h6v1h-6zM27 19h1v1h-1zM0 20h1v1h-1zM6 20h2v1h-2zM9 20h1v1h-1zM11 20h2v1h-2zM16 20h2v1h-2zM19 20h6v1h-6zM26 20h3v1h-3zM8 21h1v1h-1zM10 21h6v1h-6zM18 21h1v1h-1zM20 21h1v1h-1zM24 21h5v1h-5zM0 22h7v1h-7zM9 22h2v1h-2zM12 22h9v1h-9zM22 22h1v1h-1zM24 22h3v1h-3zM0 23h1v1h-1zM6 23h1v1h-1zM8 23h6v1h-6zM15 23h1v1h-1zM18 23h3v1h-3zM24 23h1v1h-1zM0 24h1v1h-1zM2 24h3v1h-3zM6 24h1v1h-1zM8 24h1v1h-1zM10 24h1v1h-1zM14 24h2v1h-2zM17 24h1v1h-1zM20 24h5v1h-5zM26 24h1v1h-1zM28 24h1v1h-1zM0 25h1v1h-1zM2 25h3v1h-3zM6 25h1v1h-1zM8 25h6v1h-6zM15 25h2v1h-2zM19 25h3v1h-3zM23 25h1v1h-1zM25 25h2v1h-2zM0 26h1v1h-1zM2 26h3v1h-3zM6 26h1v1h-1zM8 26h2v1h-2zM12 26h2v1h-2zM17 26h2v1h-2zM21 26h7v1h-7zM0 27h1v1h-1zM6 27h1v1h-1zM9 27h1v1h-1zM11 27h1v1h-1zM13 27h2v1h-2zM16 27h1v1h-1zM20 27h1v1h-1zM22 27h1v1h-1zM24 27h2v1h-2zM27 27h1v1h-1zM0 28h7v1h-7zM8 28h1v1h-1zM14 28h1v1h-1zM18 28h2v1h-2zM21 28h6v1h-6z" fill="#000"/></svg>
<h3 class="t" id="t27" style='left:1025.80px;top:2394.10px;font:400 39.6px/1 "Liberation Sans", sans-serif;color:#000;transform:scaleX(0.9742);-webkit-text-stroke:1.5px #000;'>Website</h3>
<h3 class="t" id="t28" style='left:1353.80px;top:2394.10px;font:400 39.6px/1 "Liberation Sans", sans-serif;color:#000;transform:scaleX(1.0424);-webkit-text-stroke:1.5px #000;'>Twitter</h3>
</section>
</main>
</body></html>
